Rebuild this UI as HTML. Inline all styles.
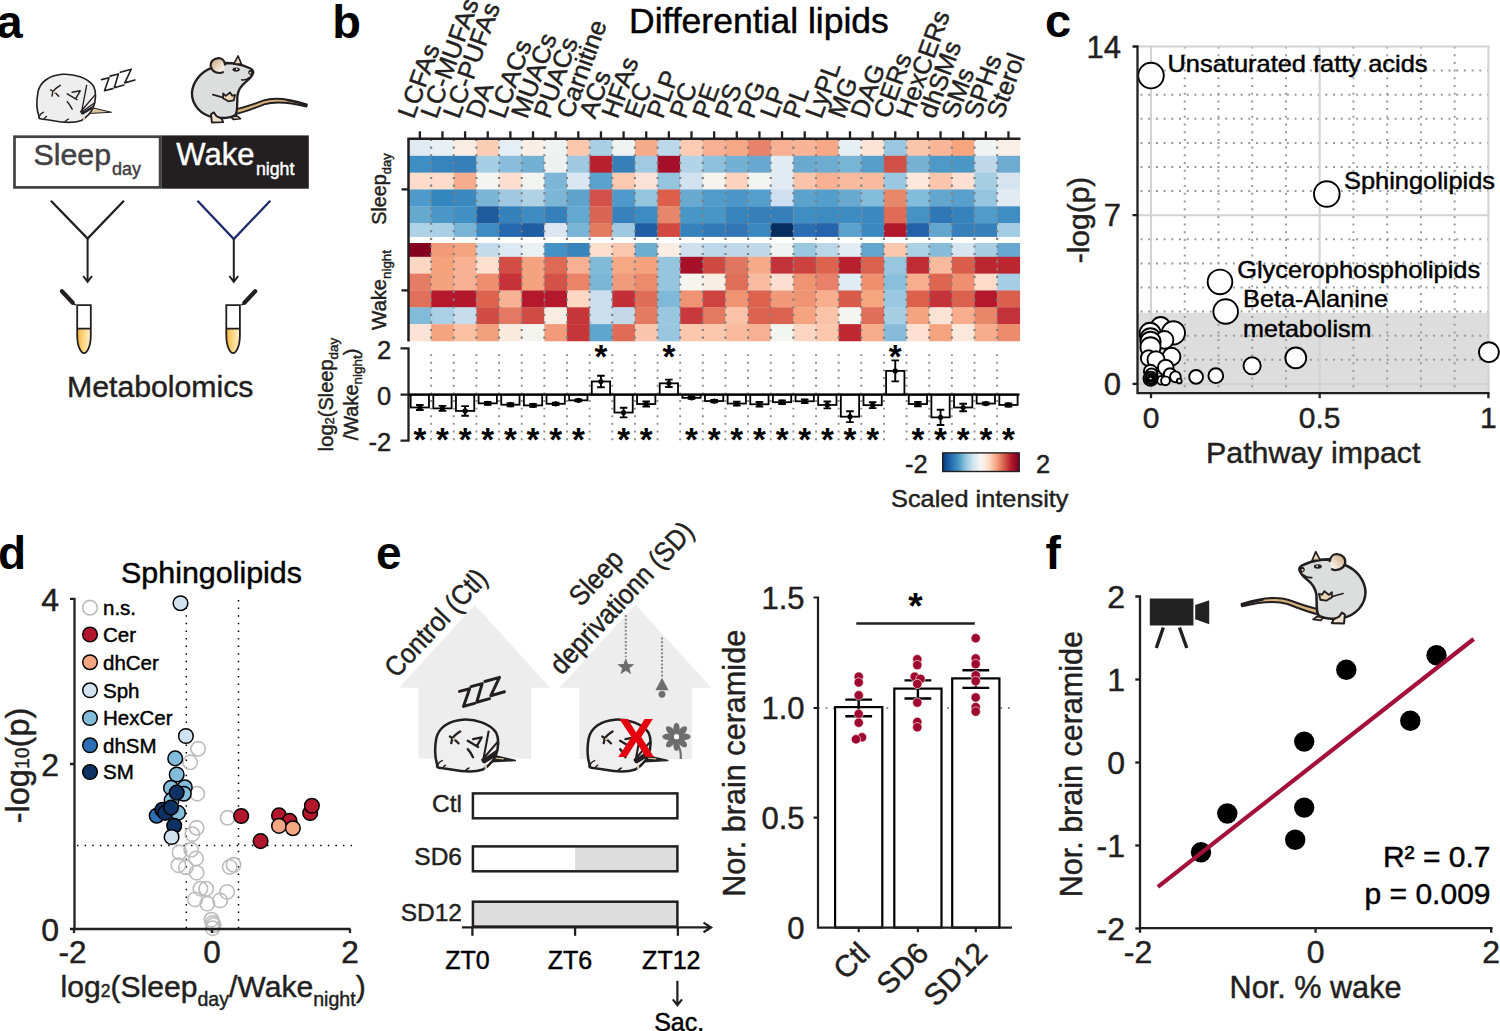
<!DOCTYPE html>
<html><head><meta charset="utf-8"><title>Figure</title>
<style>
html,body{margin:0;padding:0;background:#fff;width:1500px;height:1031px;overflow:hidden;}
svg{display:block;font-family:"Liberation Sans", sans-serif;}
</style></head><body>
<svg width="1500" height="1031" viewBox="0 0 1500 1031" font-family='"Liberation Sans", sans-serif'>
<rect width="1500" height="1031" fill="#fff"/>
<rect x="408.50" y="139.00" width="22.94" height="17.13" fill="#dfeaf2"/>
<rect x="431.14" y="139.00" width="22.94" height="17.13" fill="#e9f0f3"/>
<rect x="453.78" y="139.00" width="22.94" height="17.13" fill="#f9ece3"/>
<rect x="476.42" y="139.00" width="22.94" height="17.13" fill="#fbcdb5"/>
<rect x="499.06" y="139.00" width="22.94" height="17.13" fill="#e5eef4"/>
<rect x="521.70" y="139.00" width="22.94" height="17.13" fill="#f9eee6"/>
<rect x="544.34" y="139.00" width="22.94" height="17.13" fill="#eef3f1"/>
<rect x="566.98" y="139.00" width="22.94" height="17.13" fill="#fbc8ae"/>
<rect x="589.62" y="139.00" width="22.94" height="17.13" fill="#a8cfe4"/>
<rect x="612.26" y="139.00" width="22.94" height="17.13" fill="#eef3f1"/>
<rect x="634.90" y="139.00" width="22.94" height="17.13" fill="#f6ac8a"/>
<rect x="657.54" y="139.00" width="22.94" height="17.13" fill="#bcd8ea"/>
<rect x="680.18" y="139.00" width="22.94" height="17.13" fill="#fbcbb4"/>
<rect x="702.82" y="139.00" width="22.94" height="17.13" fill="#f7b093"/>
<rect x="725.46" y="139.00" width="22.94" height="17.13" fill="#f6a886"/>
<rect x="748.10" y="139.00" width="22.94" height="17.13" fill="#e6836a"/>
<rect x="770.74" y="139.00" width="22.94" height="17.13" fill="#f7b093"/>
<rect x="793.38" y="139.00" width="22.94" height="17.13" fill="#f7b497"/>
<rect x="816.02" y="139.00" width="22.94" height="17.13" fill="#f6a886"/>
<rect x="838.66" y="139.00" width="22.94" height="17.13" fill="#e6eff2"/>
<rect x="861.30" y="139.00" width="22.94" height="17.13" fill="#fde3d6"/>
<rect x="883.94" y="139.00" width="22.94" height="17.13" fill="#9ac8e0"/>
<rect x="906.58" y="139.00" width="22.94" height="17.13" fill="#fbc5ab"/>
<rect x="929.22" y="139.00" width="22.94" height="17.13" fill="#f9b598"/>
<rect x="951.86" y="139.00" width="22.94" height="17.13" fill="#f6a57f"/>
<rect x="974.50" y="139.00" width="22.94" height="17.13" fill="#eff3f1"/>
<rect x="997.14" y="139.00" width="22.94" height="17.13" fill="#f9efe6"/>
<rect x="408.50" y="155.83" width="22.94" height="17.13" fill="#3d8fc3"/>
<rect x="431.14" y="155.83" width="22.94" height="17.13" fill="#3584bd"/>
<rect x="453.78" y="155.83" width="22.94" height="17.13" fill="#3580bb"/>
<rect x="476.42" y="155.83" width="22.94" height="17.13" fill="#a6cfe5"/>
<rect x="499.06" y="155.83" width="22.94" height="17.13" fill="#88bedb"/>
<rect x="521.70" y="155.83" width="22.94" height="17.13" fill="#74afd4"/>
<rect x="544.34" y="155.83" width="22.94" height="17.13" fill="#edf2f1"/>
<rect x="566.98" y="155.83" width="22.94" height="17.13" fill="#9ec9e0"/>
<rect x="589.62" y="155.83" width="22.94" height="17.13" fill="#b8202f"/>
<rect x="612.26" y="155.83" width="22.94" height="17.13" fill="#3580bb"/>
<rect x="634.90" y="155.83" width="22.94" height="17.13" fill="#a0cae2"/>
<rect x="657.54" y="155.83" width="22.94" height="17.13" fill="#a50f2a"/>
<rect x="680.18" y="155.83" width="22.94" height="17.13" fill="#b3d4e8"/>
<rect x="702.82" y="155.83" width="22.94" height="17.13" fill="#8cc0dd"/>
<rect x="725.46" y="155.83" width="22.94" height="17.13" fill="#74b0d4"/>
<rect x="748.10" y="155.83" width="22.94" height="17.13" fill="#68a8d0"/>
<rect x="770.74" y="155.83" width="22.94" height="17.13" fill="#e1ebf2"/>
<rect x="793.38" y="155.83" width="22.94" height="17.13" fill="#6aaad0"/>
<rect x="816.02" y="155.83" width="22.94" height="17.13" fill="#6eacd2"/>
<rect x="838.66" y="155.83" width="22.94" height="17.13" fill="#78b4d5"/>
<rect x="861.30" y="155.83" width="22.94" height="17.13" fill="#569fcb"/>
<rect x="883.94" y="155.83" width="22.94" height="17.13" fill="#d05046"/>
<rect x="906.58" y="155.83" width="22.94" height="17.13" fill="#76b1d4"/>
<rect x="929.22" y="155.83" width="22.94" height="17.13" fill="#4d9ac9"/>
<rect x="951.86" y="155.83" width="22.94" height="17.13" fill="#4b98c7"/>
<rect x="974.50" y="155.83" width="22.94" height="17.13" fill="#c0d9ea"/>
<rect x="997.14" y="155.83" width="22.94" height="17.13" fill="#6eabd1"/>
<rect x="408.50" y="172.66" width="22.94" height="17.13" fill="#fddccb"/>
<rect x="431.14" y="172.66" width="22.94" height="17.13" fill="#fddccb"/>
<rect x="453.78" y="172.66" width="22.94" height="17.13" fill="#f7ad8c"/>
<rect x="476.42" y="172.66" width="22.94" height="17.13" fill="#f4f5f1"/>
<rect x="499.06" y="172.66" width="22.94" height="17.13" fill="#fddfd0"/>
<rect x="521.70" y="172.66" width="22.94" height="17.13" fill="#f1f4f1"/>
<rect x="544.34" y="172.66" width="22.94" height="17.13" fill="#7db6d7"/>
<rect x="566.98" y="172.66" width="22.94" height="17.13" fill="#dae6f2"/>
<rect x="589.62" y="172.66" width="22.94" height="17.13" fill="#5aa2ce"/>
<rect x="612.26" y="172.66" width="22.94" height="17.13" fill="#fcc8b0"/>
<rect x="634.90" y="172.66" width="22.94" height="17.13" fill="#fce2d6"/>
<rect x="657.54" y="172.66" width="22.94" height="17.13" fill="#94c4de"/>
<rect x="680.18" y="172.66" width="22.94" height="17.13" fill="#d0e1ef"/>
<rect x="702.82" y="172.66" width="22.94" height="17.13" fill="#f6f3ef"/>
<rect x="725.46" y="172.66" width="22.94" height="17.13" fill="#fcd3bf"/>
<rect x="748.10" y="172.66" width="22.94" height="17.13" fill="#f1f4f1"/>
<rect x="770.74" y="172.66" width="22.94" height="17.13" fill="#e1eaf2"/>
<rect x="793.38" y="172.66" width="22.94" height="17.13" fill="#fbc4aa"/>
<rect x="816.02" y="172.66" width="22.94" height="17.13" fill="#f8b293"/>
<rect x="838.66" y="172.66" width="22.94" height="17.13" fill="#f9bb9f"/>
<rect x="861.30" y="172.66" width="22.94" height="17.13" fill="#f9bb9f"/>
<rect x="883.94" y="172.66" width="22.94" height="17.13" fill="#9ac8e0"/>
<rect x="906.58" y="172.66" width="22.94" height="17.13" fill="#fde6da"/>
<rect x="929.22" y="172.66" width="22.94" height="17.13" fill="#fbc6ad"/>
<rect x="951.86" y="172.66" width="22.94" height="17.13" fill="#fde0d1"/>
<rect x="974.50" y="172.66" width="22.94" height="17.13" fill="#a6cfe4"/>
<rect x="997.14" y="172.66" width="22.94" height="17.13" fill="#d6e4f0"/>
<rect x="408.50" y="189.49" width="22.94" height="17.13" fill="#4e9bcb"/>
<rect x="431.14" y="189.49" width="22.94" height="17.13" fill="#3486bf"/>
<rect x="453.78" y="189.49" width="22.94" height="17.13" fill="#3a89c0"/>
<rect x="476.42" y="189.49" width="22.94" height="17.13" fill="#7ab4d6"/>
<rect x="499.06" y="189.49" width="22.94" height="17.13" fill="#a0c9e1"/>
<rect x="521.70" y="189.49" width="22.94" height="17.13" fill="#b1d1e5"/>
<rect x="544.34" y="189.49" width="22.94" height="17.13" fill="#7db6d7"/>
<rect x="566.98" y="189.49" width="22.94" height="17.13" fill="#5ea4cd"/>
<rect x="589.62" y="189.49" width="22.94" height="17.13" fill="#d2514a"/>
<rect x="612.26" y="189.49" width="22.94" height="17.13" fill="#4e9bcb"/>
<rect x="634.90" y="189.49" width="22.94" height="17.13" fill="#93c5de"/>
<rect x="657.54" y="189.49" width="22.94" height="17.13" fill="#dd5e4b"/>
<rect x="680.18" y="189.49" width="22.94" height="17.13" fill="#6aaad0"/>
<rect x="702.82" y="189.49" width="22.94" height="17.13" fill="#4f9cca"/>
<rect x="725.46" y="189.49" width="22.94" height="17.13" fill="#4a97c8"/>
<rect x="748.10" y="189.49" width="22.94" height="17.13" fill="#549fcb"/>
<rect x="770.74" y="189.49" width="22.94" height="17.13" fill="#cddff0"/>
<rect x="793.38" y="189.49" width="22.94" height="17.13" fill="#5ba2cd"/>
<rect x="816.02" y="189.49" width="22.94" height="17.13" fill="#549ecb"/>
<rect x="838.66" y="189.49" width="22.94" height="17.13" fill="#6aaad0"/>
<rect x="861.30" y="189.49" width="22.94" height="17.13" fill="#84bcdb"/>
<rect x="883.94" y="189.49" width="22.94" height="17.13" fill="#e8896b"/>
<rect x="906.58" y="189.49" width="22.94" height="17.13" fill="#83bbda"/>
<rect x="929.22" y="189.49" width="22.94" height="17.13" fill="#62a6ce"/>
<rect x="951.86" y="189.49" width="22.94" height="17.13" fill="#589fcb"/>
<rect x="974.50" y="189.49" width="22.94" height="17.13" fill="#94c4de"/>
<rect x="997.14" y="189.49" width="22.94" height="17.13" fill="#e2ebf2"/>
<rect x="408.50" y="206.32" width="22.94" height="17.13" fill="#65a9cf"/>
<rect x="431.14" y="206.32" width="22.94" height="17.13" fill="#4a97c8"/>
<rect x="453.78" y="206.32" width="22.94" height="17.13" fill="#4190c5"/>
<rect x="476.42" y="206.32" width="22.94" height="17.13" fill="#1f5c9f"/>
<rect x="499.06" y="206.32" width="22.94" height="17.13" fill="#3581bb"/>
<rect x="521.70" y="206.32" width="22.94" height="17.13" fill="#3e8cc1"/>
<rect x="544.34" y="206.32" width="22.94" height="17.13" fill="#3580bb"/>
<rect x="566.98" y="206.32" width="22.94" height="17.13" fill="#62a8cf"/>
<rect x="589.62" y="206.32" width="22.94" height="17.13" fill="#da6553"/>
<rect x="612.26" y="206.32" width="22.94" height="17.13" fill="#3782bc"/>
<rect x="634.90" y="206.32" width="22.94" height="17.13" fill="#3c8bc2"/>
<rect x="657.54" y="206.32" width="22.94" height="17.13" fill="#e6866a"/>
<rect x="680.18" y="206.32" width="22.94" height="17.13" fill="#4896c6"/>
<rect x="702.82" y="206.32" width="22.94" height="17.13" fill="#4896c6"/>
<rect x="725.46" y="206.32" width="22.94" height="17.13" fill="#3684bd"/>
<rect x="748.10" y="206.32" width="22.94" height="17.13" fill="#3580bb"/>
<rect x="770.74" y="206.32" width="22.94" height="17.13" fill="#3580bb"/>
<rect x="793.38" y="206.32" width="22.94" height="17.13" fill="#3e8ec3"/>
<rect x="816.02" y="206.32" width="22.94" height="17.13" fill="#3c8bc1"/>
<rect x="838.66" y="206.32" width="22.94" height="17.13" fill="#3c8bc1"/>
<rect x="861.30" y="206.32" width="22.94" height="17.13" fill="#3b89c0"/>
<rect x="883.94" y="206.32" width="22.94" height="17.13" fill="#e06b56"/>
<rect x="906.58" y="206.32" width="22.94" height="17.13" fill="#4592c5"/>
<rect x="929.22" y="206.32" width="22.94" height="17.13" fill="#2f77b6"/>
<rect x="951.86" y="206.32" width="22.94" height="17.13" fill="#3682bd"/>
<rect x="974.50" y="206.32" width="22.94" height="17.13" fill="#4f9bc9"/>
<rect x="997.14" y="206.32" width="22.94" height="17.13" fill="#3d8ec3"/>
<rect x="408.50" y="223.15" width="22.94" height="17.13" fill="#add1e5"/>
<rect x="431.14" y="223.15" width="22.94" height="17.13" fill="#a9cfe4"/>
<rect x="453.78" y="223.15" width="22.94" height="17.13" fill="#79b4d6"/>
<rect x="476.42" y="223.15" width="22.94" height="17.13" fill="#3d8bc2"/>
<rect x="499.06" y="223.15" width="22.94" height="17.13" fill="#2769ae"/>
<rect x="521.70" y="223.15" width="22.94" height="17.13" fill="#1f5ea2"/>
<rect x="544.34" y="223.15" width="22.94" height="17.13" fill="#dbe6f2"/>
<rect x="566.98" y="223.15" width="22.94" height="17.13" fill="#79b3d5"/>
<rect x="589.62" y="223.15" width="22.94" height="17.13" fill="#e27a60"/>
<rect x="612.26" y="223.15" width="22.94" height="17.13" fill="#9ec9e0"/>
<rect x="634.90" y="223.15" width="22.94" height="17.13" fill="#1f5ea3"/>
<rect x="657.54" y="223.15" width="22.94" height="17.13" fill="#d4493f"/>
<rect x="680.18" y="223.15" width="22.94" height="17.13" fill="#3682bd"/>
<rect x="702.82" y="223.15" width="22.94" height="17.13" fill="#3179b7"/>
<rect x="725.46" y="223.15" width="22.94" height="17.13" fill="#3176b6"/>
<rect x="748.10" y="223.15" width="22.94" height="17.13" fill="#3a88c0"/>
<rect x="770.74" y="223.15" width="22.94" height="17.13" fill="#052f61"/>
<rect x="793.38" y="223.15" width="22.94" height="17.13" fill="#2b6db1"/>
<rect x="816.02" y="223.15" width="22.94" height="17.13" fill="#2563aa"/>
<rect x="838.66" y="223.15" width="22.94" height="17.13" fill="#5ba2ce"/>
<rect x="861.30" y="223.15" width="22.94" height="17.13" fill="#3b89c1"/>
<rect x="883.94" y="223.15" width="22.94" height="17.13" fill="#b2182b"/>
<rect x="906.58" y="223.15" width="22.94" height="17.13" fill="#2362a8"/>
<rect x="929.22" y="223.15" width="22.94" height="17.13" fill="#62a6ce"/>
<rect x="951.86" y="223.15" width="22.94" height="17.13" fill="#3780bb"/>
<rect x="974.50" y="223.15" width="22.94" height="17.13" fill="#3780bb"/>
<rect x="997.14" y="223.15" width="22.94" height="17.13" fill="#a3cbe2"/>
<rect x="408.50" y="239.98" width="22.94" height="17.13" fill="#850020"/>
<rect x="431.14" y="239.98" width="22.94" height="17.13" fill="#f19b7b"/>
<rect x="453.78" y="239.98" width="22.94" height="17.13" fill="#f4a47f"/>
<rect x="476.42" y="239.98" width="22.94" height="17.13" fill="#c3dbeb"/>
<rect x="499.06" y="239.98" width="22.94" height="17.13" fill="#dce8f2"/>
<rect x="521.70" y="239.98" width="22.94" height="17.13" fill="#ebf1f2"/>
<rect x="544.34" y="239.98" width="22.94" height="17.13" fill="#4292c6"/>
<rect x="566.98" y="239.98" width="22.94" height="17.13" fill="#3784bd"/>
<rect x="589.62" y="239.98" width="22.94" height="17.13" fill="#fdddcb"/>
<rect x="612.26" y="239.98" width="22.94" height="17.13" fill="#fbc7ae"/>
<rect x="634.90" y="239.98" width="22.94" height="17.13" fill="#6eadd2"/>
<rect x="657.54" y="239.98" width="22.94" height="17.13" fill="#f9ede4"/>
<rect x="680.18" y="239.98" width="22.94" height="17.13" fill="#cfe1ef"/>
<rect x="702.82" y="239.98" width="22.94" height="17.13" fill="#bcd8ea"/>
<rect x="725.46" y="239.98" width="22.94" height="17.13" fill="#c0d9ea"/>
<rect x="748.10" y="239.98" width="22.94" height="17.13" fill="#c0d9ea"/>
<rect x="770.74" y="239.98" width="22.94" height="17.13" fill="#eef3f1"/>
<rect x="793.38" y="239.98" width="22.94" height="17.13" fill="#9ac8e0"/>
<rect x="816.02" y="239.98" width="22.94" height="17.13" fill="#bad6e9"/>
<rect x="838.66" y="239.98" width="22.94" height="17.13" fill="#e1ebf3"/>
<rect x="861.30" y="239.98" width="22.94" height="17.13" fill="#62a5cd"/>
<rect x="883.94" y="239.98" width="22.94" height="17.13" fill="#fbc8ae"/>
<rect x="906.58" y="239.98" width="22.94" height="17.13" fill="#acd1e5"/>
<rect x="929.22" y="239.98" width="22.94" height="17.13" fill="#86bcd9"/>
<rect x="951.86" y="239.98" width="22.94" height="17.13" fill="#d7e5f1"/>
<rect x="974.50" y="239.98" width="22.94" height="17.13" fill="#a8cee3"/>
<rect x="997.14" y="239.98" width="22.94" height="17.13" fill="#66a8cf"/>
<rect x="408.50" y="256.81" width="22.94" height="17.13" fill="#fdd7c4"/>
<rect x="431.14" y="256.81" width="22.94" height="17.13" fill="#f5a27d"/>
<rect x="453.78" y="256.81" width="22.94" height="17.13" fill="#f8b192"/>
<rect x="476.42" y="256.81" width="22.94" height="17.13" fill="#fde0ce"/>
<rect x="499.06" y="256.81" width="22.94" height="17.13" fill="#d24e45"/>
<rect x="521.70" y="256.81" width="22.94" height="17.13" fill="#f4a27f"/>
<rect x="544.34" y="256.81" width="22.94" height="17.13" fill="#de6a55"/>
<rect x="566.98" y="256.81" width="22.94" height="17.13" fill="#f7b092"/>
<rect x="589.62" y="256.81" width="22.94" height="17.13" fill="#81b9d8"/>
<rect x="612.26" y="256.81" width="22.94" height="17.13" fill="#f6a784"/>
<rect x="634.90" y="256.81" width="22.94" height="17.13" fill="#f6a27e"/>
<rect x="657.54" y="256.81" width="22.94" height="17.13" fill="#96c6df"/>
<rect x="680.18" y="256.81" width="22.94" height="17.13" fill="#a50f28"/>
<rect x="702.82" y="256.81" width="22.94" height="17.13" fill="#ce4a42"/>
<rect x="725.46" y="256.81" width="22.94" height="17.13" fill="#e17660"/>
<rect x="748.10" y="256.81" width="22.94" height="17.13" fill="#f7aa88"/>
<rect x="770.74" y="256.81" width="22.94" height="17.13" fill="#c3323a"/>
<rect x="793.38" y="256.81" width="22.94" height="17.13" fill="#cb423f"/>
<rect x="816.02" y="256.81" width="22.94" height="17.13" fill="#dc644f"/>
<rect x="838.66" y="256.81" width="22.94" height="17.13" fill="#b8202f"/>
<rect x="861.30" y="256.81" width="22.94" height="17.13" fill="#da614d"/>
<rect x="883.94" y="256.81" width="22.94" height="17.13" fill="#98c6df"/>
<rect x="906.58" y="256.81" width="22.94" height="17.13" fill="#c02c36"/>
<rect x="929.22" y="256.81" width="22.94" height="17.13" fill="#f9b99c"/>
<rect x="951.86" y="256.81" width="22.94" height="17.13" fill="#d95d4b"/>
<rect x="974.50" y="256.81" width="22.94" height="17.13" fill="#bc2631"/>
<rect x="997.14" y="256.81" width="22.94" height="17.13" fill="#bc2631"/>
<rect x="408.50" y="273.64" width="22.94" height="17.13" fill="#e57d65"/>
<rect x="431.14" y="273.64" width="22.94" height="17.13" fill="#f5a27f"/>
<rect x="453.78" y="273.64" width="22.94" height="17.13" fill="#f8b092"/>
<rect x="476.42" y="273.64" width="22.94" height="17.13" fill="#ef8e6e"/>
<rect x="499.06" y="273.64" width="22.94" height="17.13" fill="#c63237"/>
<rect x="521.70" y="273.64" width="22.94" height="17.13" fill="#f4a27f"/>
<rect x="544.34" y="273.64" width="22.94" height="17.13" fill="#d45247"/>
<rect x="566.98" y="273.64" width="22.94" height="17.13" fill="#ea8367"/>
<rect x="589.62" y="273.64" width="22.94" height="17.13" fill="#7cb6d7"/>
<rect x="612.26" y="273.64" width="22.94" height="17.13" fill="#f09c7c"/>
<rect x="634.90" y="273.64" width="22.94" height="17.13" fill="#ec8b6c"/>
<rect x="657.54" y="273.64" width="22.94" height="17.13" fill="#96c6df"/>
<rect x="680.18" y="273.64" width="22.94" height="17.13" fill="#f5f4ef"/>
<rect x="702.82" y="273.64" width="22.94" height="17.13" fill="#f9eee4"/>
<rect x="725.46" y="273.64" width="22.94" height="17.13" fill="#e06f5a"/>
<rect x="748.10" y="273.64" width="22.94" height="17.13" fill="#f9bca1"/>
<rect x="770.74" y="273.64" width="22.94" height="17.13" fill="#fddfd2"/>
<rect x="793.38" y="273.64" width="22.94" height="17.13" fill="#ef9472"/>
<rect x="816.02" y="273.64" width="22.94" height="17.13" fill="#e8806a"/>
<rect x="838.66" y="273.64" width="22.94" height="17.13" fill="#e1ebf3"/>
<rect x="861.30" y="273.64" width="22.94" height="17.13" fill="#f0906f"/>
<rect x="883.94" y="273.64" width="22.94" height="17.13" fill="#8abfdc"/>
<rect x="906.58" y="273.64" width="22.94" height="17.13" fill="#f8ae8c"/>
<rect x="929.22" y="273.64" width="22.94" height="17.13" fill="#dd6651"/>
<rect x="951.86" y="273.64" width="22.94" height="17.13" fill="#ef9070"/>
<rect x="974.50" y="273.64" width="22.94" height="17.13" fill="#fddcca"/>
<rect x="997.14" y="273.64" width="22.94" height="17.13" fill="#a6cee4"/>
<rect x="408.50" y="290.47" width="22.94" height="17.13" fill="#e07059"/>
<rect x="431.14" y="290.47" width="22.94" height="17.13" fill="#b5182d"/>
<rect x="453.78" y="290.47" width="22.94" height="17.13" fill="#b3172c"/>
<rect x="476.42" y="290.47" width="22.94" height="17.13" fill="#dd634f"/>
<rect x="499.06" y="290.47" width="22.94" height="17.13" fill="#f7b193"/>
<rect x="521.70" y="290.47" width="22.94" height="17.13" fill="#b4182d"/>
<rect x="544.34" y="290.47" width="22.94" height="17.13" fill="#b4182d"/>
<rect x="566.98" y="290.47" width="22.94" height="17.13" fill="#fdd7c4"/>
<rect x="589.62" y="290.47" width="22.94" height="17.13" fill="#cadeed"/>
<rect x="612.26" y="290.47" width="22.94" height="17.13" fill="#c42e38"/>
<rect x="634.90" y="290.47" width="22.94" height="17.13" fill="#e06d58"/>
<rect x="657.54" y="290.47" width="22.94" height="17.13" fill="#7fb8d8"/>
<rect x="680.18" y="290.47" width="22.94" height="17.13" fill="#f09373"/>
<rect x="702.82" y="290.47" width="22.94" height="17.13" fill="#cc433f"/>
<rect x="725.46" y="290.47" width="22.94" height="17.13" fill="#ef9472"/>
<rect x="748.10" y="290.47" width="22.94" height="17.13" fill="#dd634f"/>
<rect x="770.74" y="290.47" width="22.94" height="17.13" fill="#f09a79"/>
<rect x="793.38" y="290.47" width="22.94" height="17.13" fill="#ef9472"/>
<rect x="816.02" y="290.47" width="22.94" height="17.13" fill="#f8ae8c"/>
<rect x="838.66" y="290.47" width="22.94" height="17.13" fill="#d95c4b"/>
<rect x="861.30" y="290.47" width="22.94" height="17.13" fill="#f6a57f"/>
<rect x="883.94" y="290.47" width="22.94" height="17.13" fill="#9ac8e0"/>
<rect x="906.58" y="290.47" width="22.94" height="17.13" fill="#db614d"/>
<rect x="929.22" y="290.47" width="22.94" height="17.13" fill="#c43339"/>
<rect x="951.86" y="290.47" width="22.94" height="17.13" fill="#da614d"/>
<rect x="974.50" y="290.47" width="22.94" height="17.13" fill="#b5182d"/>
<rect x="997.14" y="290.47" width="22.94" height="17.13" fill="#da5f4c"/>
<rect x="408.50" y="307.30" width="22.94" height="17.13" fill="#81bbd8"/>
<rect x="431.14" y="307.30" width="22.94" height="17.13" fill="#a9d0e5"/>
<rect x="453.78" y="307.30" width="22.94" height="17.13" fill="#c6dcec"/>
<rect x="476.42" y="307.30" width="22.94" height="17.13" fill="#d04b44"/>
<rect x="499.06" y="307.30" width="22.94" height="17.13" fill="#e47862"/>
<rect x="521.70" y="307.30" width="22.94" height="17.13" fill="#d04b44"/>
<rect x="544.34" y="307.30" width="22.94" height="17.13" fill="#f9ece3"/>
<rect x="566.98" y="307.30" width="22.94" height="17.13" fill="#c63538"/>
<rect x="589.62" y="307.30" width="22.94" height="17.13" fill="#cadeed"/>
<rect x="612.26" y="307.30" width="22.94" height="17.13" fill="#c3d9ea"/>
<rect x="634.90" y="307.30" width="22.94" height="17.13" fill="#e47a62"/>
<rect x="657.54" y="307.30" width="22.94" height="17.13" fill="#98c7df"/>
<rect x="680.18" y="307.30" width="22.94" height="17.13" fill="#c8393c"/>
<rect x="702.82" y="307.30" width="22.94" height="17.13" fill="#e47a62"/>
<rect x="725.46" y="307.30" width="22.94" height="17.13" fill="#fac2a7"/>
<rect x="748.10" y="307.30" width="22.94" height="17.13" fill="#dc634f"/>
<rect x="770.74" y="307.30" width="22.94" height="17.13" fill="#dc634f"/>
<rect x="793.38" y="307.30" width="22.94" height="17.13" fill="#f5a47f"/>
<rect x="816.02" y="307.30" width="22.94" height="17.13" fill="#fac3a7"/>
<rect x="838.66" y="307.30" width="22.94" height="17.13" fill="#f4f5f0"/>
<rect x="861.30" y="307.30" width="22.94" height="17.13" fill="#e06e58"/>
<rect x="883.94" y="307.30" width="22.94" height="17.13" fill="#a6cfe4"/>
<rect x="906.58" y="307.30" width="22.94" height="17.13" fill="#f5a47f"/>
<rect x="929.22" y="307.30" width="22.94" height="17.13" fill="#fde2d6"/>
<rect x="951.86" y="307.30" width="22.94" height="17.13" fill="#f8ae8c"/>
<rect x="974.50" y="307.30" width="22.94" height="17.13" fill="#e8866a"/>
<rect x="997.14" y="307.30" width="22.94" height="17.13" fill="#c3313a"/>
<rect x="408.50" y="324.13" width="22.94" height="17.13" fill="#fbe3d8"/>
<rect x="431.14" y="324.13" width="22.94" height="17.13" fill="#f5a482"/>
<rect x="453.78" y="324.13" width="22.94" height="17.13" fill="#fbbfa2"/>
<rect x="476.42" y="324.13" width="22.94" height="17.13" fill="#f19f7c"/>
<rect x="499.06" y="324.13" width="22.94" height="17.13" fill="#faeade"/>
<rect x="521.70" y="324.13" width="22.94" height="17.13" fill="#f4f4ef"/>
<rect x="544.34" y="324.13" width="22.94" height="17.13" fill="#f19b7a"/>
<rect x="566.98" y="324.13" width="22.94" height="17.13" fill="#c63538"/>
<rect x="589.62" y="324.13" width="22.94" height="17.13" fill="#5ea6cd"/>
<rect x="612.26" y="324.13" width="22.94" height="17.13" fill="#e06b56"/>
<rect x="634.90" y="324.13" width="22.94" height="17.13" fill="#fbc6ad"/>
<rect x="657.54" y="324.13" width="22.94" height="17.13" fill="#98c7df"/>
<rect x="680.18" y="324.13" width="22.94" height="17.13" fill="#fbc8ae"/>
<rect x="702.82" y="324.13" width="22.94" height="17.13" fill="#fbc8ae"/>
<rect x="725.46" y="324.13" width="22.94" height="17.13" fill="#f9b99c"/>
<rect x="748.10" y="324.13" width="22.94" height="17.13" fill="#f7b092"/>
<rect x="770.74" y="324.13" width="22.94" height="17.13" fill="#f3f5f0"/>
<rect x="793.38" y="324.13" width="22.94" height="17.13" fill="#fcd6c3"/>
<rect x="816.02" y="324.13" width="22.94" height="17.13" fill="#fbc8ae"/>
<rect x="838.66" y="324.13" width="22.94" height="17.13" fill="#bf2833"/>
<rect x="861.30" y="324.13" width="22.94" height="17.13" fill="#f7ad8c"/>
<rect x="883.94" y="324.13" width="22.94" height="17.13" fill="#86bcd9"/>
<rect x="906.58" y="324.13" width="22.94" height="17.13" fill="#fde0d2"/>
<rect x="929.22" y="324.13" width="22.94" height="17.13" fill="#f5a47f"/>
<rect x="951.86" y="324.13" width="22.94" height="17.13" fill="#fbe7dc"/>
<rect x="974.50" y="324.13" width="22.94" height="17.13" fill="#f7ad8c"/>
<rect x="997.14" y="324.13" width="22.94" height="17.13" fill="#ec8c6c"/>
<rect x="408.5" y="236.9" width="612.28" height="6.1" fill="#fff"/>
<line x1="431.14" y1="139" x2="431.14" y2="341" stroke="#7f7f7f" stroke-width="2.1" stroke-dasharray="2.1 5.5"/>
<line x1="431.14" y1="354.2" x2="431.14" y2="442" stroke="#8a8a8a" stroke-width="1.9" stroke-dasharray="1.9 5.74"/>
<line x1="453.78" y1="139" x2="453.78" y2="341" stroke="#7f7f7f" stroke-width="2.1" stroke-dasharray="2.1 5.5"/>
<line x1="453.78" y1="354.2" x2="453.78" y2="442" stroke="#8a8a8a" stroke-width="1.9" stroke-dasharray="1.9 5.74"/>
<line x1="476.42" y1="139" x2="476.42" y2="341" stroke="#7f7f7f" stroke-width="2.1" stroke-dasharray="2.1 5.5"/>
<line x1="476.42" y1="354.2" x2="476.42" y2="442" stroke="#8a8a8a" stroke-width="1.9" stroke-dasharray="1.9 5.74"/>
<line x1="499.06" y1="139" x2="499.06" y2="341" stroke="#7f7f7f" stroke-width="2.1" stroke-dasharray="2.1 5.5"/>
<line x1="499.06" y1="354.2" x2="499.06" y2="442" stroke="#8a8a8a" stroke-width="1.9" stroke-dasharray="1.9 5.74"/>
<line x1="521.70" y1="139" x2="521.70" y2="341" stroke="#7f7f7f" stroke-width="2.1" stroke-dasharray="2.1 5.5"/>
<line x1="521.70" y1="354.2" x2="521.70" y2="442" stroke="#8a8a8a" stroke-width="1.9" stroke-dasharray="1.9 5.74"/>
<line x1="544.34" y1="139" x2="544.34" y2="341" stroke="#7f7f7f" stroke-width="2.1" stroke-dasharray="2.1 5.5"/>
<line x1="544.34" y1="354.2" x2="544.34" y2="442" stroke="#8a8a8a" stroke-width="1.9" stroke-dasharray="1.9 5.74"/>
<line x1="566.98" y1="139" x2="566.98" y2="341" stroke="#7f7f7f" stroke-width="2.1" stroke-dasharray="2.1 5.5"/>
<line x1="566.98" y1="354.2" x2="566.98" y2="442" stroke="#8a8a8a" stroke-width="1.9" stroke-dasharray="1.9 5.74"/>
<line x1="589.62" y1="139" x2="589.62" y2="341" stroke="#7f7f7f" stroke-width="2.1" stroke-dasharray="2.1 5.5"/>
<line x1="589.62" y1="354.2" x2="589.62" y2="442" stroke="#8a8a8a" stroke-width="1.9" stroke-dasharray="1.9 5.74"/>
<line x1="612.26" y1="139" x2="612.26" y2="341" stroke="#7f7f7f" stroke-width="2.1" stroke-dasharray="2.1 5.5"/>
<line x1="612.26" y1="354.2" x2="612.26" y2="442" stroke="#8a8a8a" stroke-width="1.9" stroke-dasharray="1.9 5.74"/>
<line x1="634.90" y1="139" x2="634.90" y2="341" stroke="#7f7f7f" stroke-width="2.1" stroke-dasharray="2.1 5.5"/>
<line x1="634.90" y1="354.2" x2="634.90" y2="442" stroke="#8a8a8a" stroke-width="1.9" stroke-dasharray="1.9 5.74"/>
<line x1="657.54" y1="139" x2="657.54" y2="341" stroke="#7f7f7f" stroke-width="2.1" stroke-dasharray="2.1 5.5"/>
<line x1="657.54" y1="354.2" x2="657.54" y2="442" stroke="#8a8a8a" stroke-width="1.9" stroke-dasharray="1.9 5.74"/>
<line x1="680.18" y1="139" x2="680.18" y2="341" stroke="#7f7f7f" stroke-width="2.1" stroke-dasharray="2.1 5.5"/>
<line x1="680.18" y1="354.2" x2="680.18" y2="442" stroke="#8a8a8a" stroke-width="1.9" stroke-dasharray="1.9 5.74"/>
<line x1="702.82" y1="139" x2="702.82" y2="341" stroke="#7f7f7f" stroke-width="2.1" stroke-dasharray="2.1 5.5"/>
<line x1="702.82" y1="354.2" x2="702.82" y2="442" stroke="#8a8a8a" stroke-width="1.9" stroke-dasharray="1.9 5.74"/>
<line x1="725.46" y1="139" x2="725.46" y2="341" stroke="#7f7f7f" stroke-width="2.1" stroke-dasharray="2.1 5.5"/>
<line x1="725.46" y1="354.2" x2="725.46" y2="442" stroke="#8a8a8a" stroke-width="1.9" stroke-dasharray="1.9 5.74"/>
<line x1="748.10" y1="139" x2="748.10" y2="341" stroke="#7f7f7f" stroke-width="2.1" stroke-dasharray="2.1 5.5"/>
<line x1="748.10" y1="354.2" x2="748.10" y2="442" stroke="#8a8a8a" stroke-width="1.9" stroke-dasharray="1.9 5.74"/>
<line x1="770.74" y1="139" x2="770.74" y2="341" stroke="#7f7f7f" stroke-width="2.1" stroke-dasharray="2.1 5.5"/>
<line x1="770.74" y1="354.2" x2="770.74" y2="442" stroke="#8a8a8a" stroke-width="1.9" stroke-dasharray="1.9 5.74"/>
<line x1="793.38" y1="139" x2="793.38" y2="341" stroke="#7f7f7f" stroke-width="2.1" stroke-dasharray="2.1 5.5"/>
<line x1="793.38" y1="354.2" x2="793.38" y2="442" stroke="#8a8a8a" stroke-width="1.9" stroke-dasharray="1.9 5.74"/>
<line x1="816.02" y1="139" x2="816.02" y2="341" stroke="#7f7f7f" stroke-width="2.1" stroke-dasharray="2.1 5.5"/>
<line x1="816.02" y1="354.2" x2="816.02" y2="442" stroke="#8a8a8a" stroke-width="1.9" stroke-dasharray="1.9 5.74"/>
<line x1="838.66" y1="139" x2="838.66" y2="341" stroke="#7f7f7f" stroke-width="2.1" stroke-dasharray="2.1 5.5"/>
<line x1="838.66" y1="354.2" x2="838.66" y2="442" stroke="#8a8a8a" stroke-width="1.9" stroke-dasharray="1.9 5.74"/>
<line x1="861.30" y1="139" x2="861.30" y2="341" stroke="#7f7f7f" stroke-width="2.1" stroke-dasharray="2.1 5.5"/>
<line x1="861.30" y1="354.2" x2="861.30" y2="442" stroke="#8a8a8a" stroke-width="1.9" stroke-dasharray="1.9 5.74"/>
<line x1="883.94" y1="139" x2="883.94" y2="341" stroke="#7f7f7f" stroke-width="2.1" stroke-dasharray="2.1 5.5"/>
<line x1="883.94" y1="354.2" x2="883.94" y2="442" stroke="#8a8a8a" stroke-width="1.9" stroke-dasharray="1.9 5.74"/>
<line x1="906.58" y1="139" x2="906.58" y2="341" stroke="#7f7f7f" stroke-width="2.1" stroke-dasharray="2.1 5.5"/>
<line x1="906.58" y1="354.2" x2="906.58" y2="442" stroke="#8a8a8a" stroke-width="1.9" stroke-dasharray="1.9 5.74"/>
<line x1="929.22" y1="139" x2="929.22" y2="341" stroke="#7f7f7f" stroke-width="2.1" stroke-dasharray="2.1 5.5"/>
<line x1="929.22" y1="354.2" x2="929.22" y2="442" stroke="#8a8a8a" stroke-width="1.9" stroke-dasharray="1.9 5.74"/>
<line x1="951.86" y1="139" x2="951.86" y2="341" stroke="#7f7f7f" stroke-width="2.1" stroke-dasharray="2.1 5.5"/>
<line x1="951.86" y1="354.2" x2="951.86" y2="442" stroke="#8a8a8a" stroke-width="1.9" stroke-dasharray="1.9 5.74"/>
<line x1="974.50" y1="139" x2="974.50" y2="341" stroke="#7f7f7f" stroke-width="2.1" stroke-dasharray="2.1 5.5"/>
<line x1="974.50" y1="354.2" x2="974.50" y2="442" stroke="#8a8a8a" stroke-width="1.9" stroke-dasharray="1.9 5.74"/>
<line x1="997.14" y1="139" x2="997.14" y2="341" stroke="#7f7f7f" stroke-width="2.1" stroke-dasharray="2.1 5.5"/>
<line x1="997.14" y1="354.2" x2="997.14" y2="442" stroke="#8a8a8a" stroke-width="1.9" stroke-dasharray="1.9 5.74"/>
<path d="M408.5 341.5 V138.7 H1020.5" fill="none" stroke="#231f20" stroke-width="2.5"/>
<line x1="419.82" y1="131.3" x2="419.82" y2="138" stroke="#231f20" stroke-width="2.3"/>
<line x1="442.46" y1="131.3" x2="442.46" y2="138" stroke="#231f20" stroke-width="2.3"/>
<line x1="465.10" y1="131.3" x2="465.10" y2="138" stroke="#231f20" stroke-width="2.3"/>
<line x1="487.74" y1="131.3" x2="487.74" y2="138" stroke="#231f20" stroke-width="2.3"/>
<line x1="510.38" y1="131.3" x2="510.38" y2="138" stroke="#231f20" stroke-width="2.3"/>
<line x1="533.02" y1="131.3" x2="533.02" y2="138" stroke="#231f20" stroke-width="2.3"/>
<line x1="555.66" y1="131.3" x2="555.66" y2="138" stroke="#231f20" stroke-width="2.3"/>
<line x1="578.30" y1="131.3" x2="578.30" y2="138" stroke="#231f20" stroke-width="2.3"/>
<line x1="600.94" y1="131.3" x2="600.94" y2="138" stroke="#231f20" stroke-width="2.3"/>
<line x1="623.58" y1="131.3" x2="623.58" y2="138" stroke="#231f20" stroke-width="2.3"/>
<line x1="646.22" y1="131.3" x2="646.22" y2="138" stroke="#231f20" stroke-width="2.3"/>
<line x1="668.86" y1="131.3" x2="668.86" y2="138" stroke="#231f20" stroke-width="2.3"/>
<line x1="691.50" y1="131.3" x2="691.50" y2="138" stroke="#231f20" stroke-width="2.3"/>
<line x1="714.14" y1="131.3" x2="714.14" y2="138" stroke="#231f20" stroke-width="2.3"/>
<line x1="736.78" y1="131.3" x2="736.78" y2="138" stroke="#231f20" stroke-width="2.3"/>
<line x1="759.42" y1="131.3" x2="759.42" y2="138" stroke="#231f20" stroke-width="2.3"/>
<line x1="782.06" y1="131.3" x2="782.06" y2="138" stroke="#231f20" stroke-width="2.3"/>
<line x1="804.70" y1="131.3" x2="804.70" y2="138" stroke="#231f20" stroke-width="2.3"/>
<line x1="827.34" y1="131.3" x2="827.34" y2="138" stroke="#231f20" stroke-width="2.3"/>
<line x1="849.98" y1="131.3" x2="849.98" y2="138" stroke="#231f20" stroke-width="2.3"/>
<line x1="872.62" y1="131.3" x2="872.62" y2="138" stroke="#231f20" stroke-width="2.3"/>
<line x1="895.26" y1="131.3" x2="895.26" y2="138" stroke="#231f20" stroke-width="2.3"/>
<line x1="917.90" y1="131.3" x2="917.90" y2="138" stroke="#231f20" stroke-width="2.3"/>
<line x1="940.54" y1="131.3" x2="940.54" y2="138" stroke="#231f20" stroke-width="2.3"/>
<line x1="963.18" y1="131.3" x2="963.18" y2="138" stroke="#231f20" stroke-width="2.3"/>
<line x1="985.82" y1="131.3" x2="985.82" y2="138" stroke="#231f20" stroke-width="2.3"/>
<line x1="1008.46" y1="131.3" x2="1008.46" y2="138" stroke="#231f20" stroke-width="2.3"/>
<line x1="401.5" y1="189.4" x2="408.5" y2="189.4" stroke="#231f20" stroke-width="2.3"/>
<line x1="401.5" y1="290.4" x2="408.5" y2="290.4" stroke="#231f20" stroke-width="2.3"/>
<text transform="translate(386.3,189) rotate(-90)" text-anchor="middle" font-size="19.8" fill="#231f20" stroke="#231f20" stroke-width="0.45">Sleep<tspan font-size="13" dy="5">day</tspan></text>
<text transform="translate(386.3,290) rotate(-90)" text-anchor="middle" font-size="20.3" fill="#231f20" stroke="#231f20" stroke-width="0.45">Wake<tspan font-size="13.3" dy="5">night</tspan></text>
<text transform="translate(413.82,119.7) rotate(-70)" font-size="25.5" fill="#231f20" stroke="#231f20" stroke-width="0.45">LCFAs</text>
<text transform="translate(436.46,119.7) rotate(-70)" font-size="25.5" fill="#231f20" stroke="#231f20" stroke-width="0.45">LC-MUFAs</text>
<text transform="translate(459.10,119.7) rotate(-70)" font-size="25.5" fill="#231f20" stroke="#231f20" stroke-width="0.45">LC-PUFAs</text>
<text transform="translate(481.74,119.7) rotate(-70)" font-size="25.5" fill="#231f20" stroke="#231f20" stroke-width="0.45">DA</text>
<text transform="translate(504.38,119.7) rotate(-70)" font-size="25.5" fill="#231f20" stroke="#231f20" stroke-width="0.45">LCACs</text>
<text transform="translate(527.02,119.7) rotate(-70)" font-size="25.5" fill="#231f20" stroke="#231f20" stroke-width="0.45">MUACs</text>
<text transform="translate(549.66,119.7) rotate(-70)" font-size="25.5" fill="#231f20" stroke="#231f20" stroke-width="0.45">PUACs</text>
<text transform="translate(572.30,119.7) rotate(-70)" font-size="25.5" fill="#231f20" stroke="#231f20" stroke-width="0.45">Carnitine</text>
<text transform="translate(594.94,119.7) rotate(-70)" font-size="25.5" fill="#231f20" stroke="#231f20" stroke-width="0.45">ACs</text>
<text transform="translate(617.58,119.7) rotate(-70)" font-size="25.5" fill="#231f20" stroke="#231f20" stroke-width="0.45">HFAs</text>
<text transform="translate(640.22,119.7) rotate(-70)" font-size="25.5" fill="#231f20" stroke="#231f20" stroke-width="0.45">EC</text>
<text transform="translate(662.86,119.7) rotate(-70)" font-size="25.5" fill="#231f20" stroke="#231f20" stroke-width="0.45">PLP</text>
<text transform="translate(685.50,119.7) rotate(-70)" font-size="25.5" fill="#231f20" stroke="#231f20" stroke-width="0.45">PC</text>
<text transform="translate(708.14,119.7) rotate(-70)" font-size="25.5" fill="#231f20" stroke="#231f20" stroke-width="0.45">PE</text>
<text transform="translate(730.78,119.7) rotate(-70)" font-size="25.5" fill="#231f20" stroke="#231f20" stroke-width="0.45">PS</text>
<text transform="translate(753.42,119.7) rotate(-70)" font-size="25.5" fill="#231f20" stroke="#231f20" stroke-width="0.45">PG</text>
<text transform="translate(776.06,119.7) rotate(-70)" font-size="25.5" fill="#231f20" stroke="#231f20" stroke-width="0.45">LP</text>
<text transform="translate(798.70,119.7) rotate(-70)" font-size="25.5" fill="#231f20" stroke="#231f20" stroke-width="0.45">PL</text>
<text transform="translate(821.34,119.7) rotate(-70)" font-size="25.5" fill="#231f20" stroke="#231f20" stroke-width="0.45">LyPL</text>
<text transform="translate(843.98,119.7) rotate(-70)" font-size="25.5" fill="#231f20" stroke="#231f20" stroke-width="0.45">MG</text>
<text transform="translate(866.62,119.7) rotate(-70)" font-size="25.5" fill="#231f20" stroke="#231f20" stroke-width="0.45">DAG</text>
<text transform="translate(889.26,119.7) rotate(-70)" font-size="25.5" fill="#231f20" stroke="#231f20" stroke-width="0.45">CERs</text>
<text transform="translate(911.90,119.7) rotate(-70)" font-size="25.5" fill="#231f20" stroke="#231f20" stroke-width="0.45">HexCERs</text>
<text transform="translate(934.54,119.7) rotate(-70)" font-size="25.5" fill="#231f20" stroke="#231f20" stroke-width="0.45">dhSMs</text>
<text transform="translate(957.18,119.7) rotate(-70)" font-size="25.5" fill="#231f20" stroke="#231f20" stroke-width="0.45">SMs</text>
<text transform="translate(979.82,119.7) rotate(-70)" font-size="25.5" fill="#231f20" stroke="#231f20" stroke-width="0.45">SPHs</text>
<text transform="translate(1002.46,119.7) rotate(-70)" font-size="25.5" fill="#231f20" stroke="#231f20" stroke-width="0.45">Sterol</text>
<text x="629" y="33.2" font-size="35.5" fill="#000" stroke="#000" stroke-width="0.45">Differential lipids</text>
<path d="M400.5 348.3 H408.5 V440.6 H400.5 M400.5 394.6 H408.5" fill="none" stroke="#231f20" stroke-width="2.3"/>
<rect x="410.67" y="394.60" width="18.3" height="12.88" fill="#fff" stroke="#000" stroke-width="1.8"/>
<path d="M416.02 404.98 H423.62 M416.02 409.98 H423.62 M419.82 404.98 V409.98" stroke="#000" stroke-width="1.9" fill="none"/>
<circle cx="419.82" cy="407.48" r="2.6" fill="#000"/>
<rect x="433.31" y="394.60" width="18.3" height="13.80" fill="#fff" stroke="#000" stroke-width="1.8"/>
<path d="M438.66 405.90 H446.26 M438.66 410.90 H446.26 M442.46 405.90 V410.90" stroke="#000" stroke-width="1.9" fill="none"/>
<circle cx="442.46" cy="408.40" r="2.6" fill="#000"/>
<rect x="455.95" y="394.60" width="18.3" height="16.33" fill="#fff" stroke="#000" stroke-width="1.8"/>
<path d="M461.30 406.13 H468.90 M461.30 415.73 H468.90 M465.10 406.13 V415.73" stroke="#000" stroke-width="1.9" fill="none"/>
<circle cx="465.10" cy="410.93" r="2.6" fill="#000"/>
<rect x="478.59" y="394.60" width="18.3" height="8.74" fill="#fff" stroke="#000" stroke-width="1.8"/>
<path d="M483.94 401.84 H491.54 M483.94 404.84 H491.54 M487.74 401.84 V404.84" stroke="#000" stroke-width="1.9" fill="none"/>
<circle cx="487.74" cy="403.34" r="2.6" fill="#000"/>
<rect x="501.23" y="394.60" width="18.3" height="10.12" fill="#fff" stroke="#000" stroke-width="1.8"/>
<path d="M506.58 403.22 H514.18 M506.58 406.22 H514.18 M510.38 403.22 V406.22" stroke="#000" stroke-width="1.9" fill="none"/>
<circle cx="510.38" cy="404.72" r="2.6" fill="#000"/>
<rect x="523.87" y="394.60" width="18.3" height="10.81" fill="#fff" stroke="#000" stroke-width="1.8"/>
<path d="M529.22 403.91 H536.82 M529.22 406.91 H536.82 M533.02 403.91 V406.91" stroke="#000" stroke-width="1.9" fill="none"/>
<circle cx="533.02" cy="405.41" r="2.6" fill="#000"/>
<rect x="546.51" y="394.60" width="18.3" height="9.20" fill="#fff" stroke="#000" stroke-width="1.8"/>
<path d="M551.86 402.60 H559.46 M551.86 405.00 H559.46 M555.66 402.60 V405.00" stroke="#000" stroke-width="1.9" fill="none"/>
<circle cx="555.66" cy="403.80" r="2.6" fill="#000"/>
<rect x="569.15" y="394.60" width="18.3" height="5.75" fill="#fff" stroke="#000" stroke-width="1.8"/>
<path d="M574.50 399.35 H582.10 M574.50 401.35 H582.10 M578.30 399.35 V401.35" stroke="#000" stroke-width="1.9" fill="none"/>
<circle cx="578.30" cy="400.35" r="2.6" fill="#000"/>
<rect x="591.79" y="381.49" width="18.3" height="13.11" fill="#fff" stroke="#000" stroke-width="1.8"/>
<path d="M597.14 375.79 H604.74 M597.14 387.19 H604.74 M600.94 375.79 V387.19" stroke="#000" stroke-width="1.9" fill="none"/>
<circle cx="600.94" cy="381.49" r="2.6" fill="#000"/>
<rect x="614.43" y="394.60" width="18.3" height="17.94" fill="#fff" stroke="#000" stroke-width="1.8"/>
<path d="M619.78 407.74 H627.38 M619.78 417.34 H627.38 M623.58 407.74 V417.34" stroke="#000" stroke-width="1.9" fill="none"/>
<circle cx="623.58" cy="412.54" r="2.6" fill="#000"/>
<rect x="637.07" y="394.60" width="18.3" height="9.43" fill="#fff" stroke="#000" stroke-width="1.8"/>
<path d="M642.42 401.53 H650.02 M642.42 406.53 H650.02 M646.22 401.53 V406.53" stroke="#000" stroke-width="1.9" fill="none"/>
<circle cx="646.22" cy="404.03" r="2.6" fill="#000"/>
<rect x="659.71" y="383.33" width="18.3" height="11.27" fill="#fff" stroke="#000" stroke-width="1.8"/>
<path d="M665.06 379.63 H672.66 M665.06 387.03 H672.66 M668.86 379.63 V387.03" stroke="#000" stroke-width="1.9" fill="none"/>
<circle cx="668.86" cy="383.33" r="2.6" fill="#000"/>
<rect x="682.35" y="394.60" width="18.3" height="3.22" fill="#fff" stroke="#000" stroke-width="1.8"/>
<path d="M687.70 396.82 H695.30 M687.70 398.82 H695.30 M691.50 396.82 V398.82" stroke="#000" stroke-width="1.9" fill="none"/>
<circle cx="691.50" cy="397.82" r="2.6" fill="#000"/>
<rect x="704.99" y="394.60" width="18.3" height="6.44" fill="#fff" stroke="#000" stroke-width="1.8"/>
<path d="M710.34 399.84 H717.94 M710.34 402.24 H717.94 M714.14 399.84 V402.24" stroke="#000" stroke-width="1.9" fill="none"/>
<circle cx="714.14" cy="401.04" r="2.6" fill="#000"/>
<rect x="727.63" y="394.60" width="18.3" height="8.97" fill="#fff" stroke="#000" stroke-width="1.8"/>
<path d="M732.98 401.67 H740.58 M732.98 405.47 H740.58 M736.78 401.67 V405.47" stroke="#000" stroke-width="1.9" fill="none"/>
<circle cx="736.78" cy="403.57" r="2.6" fill="#000"/>
<rect x="750.27" y="394.60" width="18.3" height="9.66" fill="#fff" stroke="#000" stroke-width="1.8"/>
<path d="M755.62 402.06 H763.22 M755.62 406.46 H763.22 M759.42 402.06 V406.46" stroke="#000" stroke-width="1.9" fill="none"/>
<circle cx="759.42" cy="404.26" r="2.6" fill="#000"/>
<rect x="772.91" y="394.60" width="18.3" height="7.59" fill="#fff" stroke="#000" stroke-width="1.8"/>
<path d="M778.26 400.39 H785.86 M778.26 403.99 H785.86 M782.06 400.39 V403.99" stroke="#000" stroke-width="1.9" fill="none"/>
<circle cx="782.06" cy="402.19" r="2.6" fill="#000"/>
<rect x="795.55" y="394.60" width="18.3" height="6.67" fill="#fff" stroke="#000" stroke-width="1.8"/>
<path d="M800.90 399.37 H808.50 M800.90 403.17 H808.50 M804.70 399.37 V403.17" stroke="#000" stroke-width="1.9" fill="none"/>
<circle cx="804.70" cy="401.27" r="2.6" fill="#000"/>
<rect x="818.19" y="394.60" width="18.3" height="10.35" fill="#fff" stroke="#000" stroke-width="1.8"/>
<path d="M823.54 401.55 H831.14 M823.54 408.35 H831.14 M827.34 401.55 V408.35" stroke="#000" stroke-width="1.9" fill="none"/>
<circle cx="827.34" cy="404.95" r="2.6" fill="#000"/>
<rect x="840.83" y="394.60" width="18.3" height="22.08" fill="#fff" stroke="#000" stroke-width="1.8"/>
<path d="M846.18 411.28 H853.78 M846.18 422.08 H853.78 M849.98 411.28 V422.08" stroke="#000" stroke-width="1.9" fill="none"/>
<circle cx="849.98" cy="416.68" r="2.6" fill="#000"/>
<rect x="863.47" y="394.60" width="18.3" height="10.58" fill="#fff" stroke="#000" stroke-width="1.8"/>
<path d="M868.82 402.28 H876.42 M868.82 408.08 H876.42 M872.62 402.28 V408.08" stroke="#000" stroke-width="1.9" fill="none"/>
<circle cx="872.62" cy="405.18" r="2.6" fill="#000"/>
<rect x="886.11" y="370.91" width="18.3" height="23.69" fill="#fff" stroke="#000" stroke-width="1.8"/>
<path d="M891.46 360.41 H899.06 M891.46 381.41 H899.06 M895.26 360.41 V381.41" stroke="#000" stroke-width="1.9" fill="none"/>
<circle cx="895.26" cy="370.91" r="2.6" fill="#000"/>
<rect x="908.75" y="394.60" width="18.3" height="9.43" fill="#fff" stroke="#000" stroke-width="1.8"/>
<path d="M914.10 401.83 H921.70 M914.10 406.23 H921.70 M917.90 401.83 V406.23" stroke="#000" stroke-width="1.9" fill="none"/>
<circle cx="917.90" cy="404.03" r="2.6" fill="#000"/>
<rect x="931.39" y="394.60" width="18.3" height="22.77" fill="#fff" stroke="#000" stroke-width="1.8"/>
<path d="M936.74 409.77 H944.34 M936.74 424.97 H944.34 M940.54 409.77 V424.97" stroke="#000" stroke-width="1.9" fill="none"/>
<circle cx="940.54" cy="417.37" r="2.6" fill="#000"/>
<rect x="954.03" y="394.60" width="18.3" height="12.88" fill="#fff" stroke="#000" stroke-width="1.8"/>
<path d="M959.38 403.68 H966.98 M959.38 411.28 H966.98 M963.18 403.68 V411.28" stroke="#000" stroke-width="1.9" fill="none"/>
<circle cx="963.18" cy="407.48" r="2.6" fill="#000"/>
<rect x="976.67" y="394.60" width="18.3" height="8.97" fill="#fff" stroke="#000" stroke-width="1.8"/>
<path d="M982.02 402.57 H989.62 M982.02 404.57 H989.62 M985.82 402.57 V404.57" stroke="#000" stroke-width="1.9" fill="none"/>
<circle cx="985.82" cy="403.57" r="2.6" fill="#000"/>
<rect x="999.31" y="394.60" width="18.3" height="10.35" fill="#fff" stroke="#000" stroke-width="1.8"/>
<path d="M1004.66 403.45 H1012.26 M1004.66 406.45 H1012.26 M1008.46 403.45 V406.45" stroke="#000" stroke-width="1.9" fill="none"/>
<circle cx="1008.46" cy="404.95" r="2.6" fill="#000"/>
<line x1="408.5" y1="394.6" x2="1019.5" y2="394.6" stroke="#000" stroke-width="2.2"/>
<text x="419.82" y="450.6" text-anchor="middle" font-size="33" font-weight="bold" fill="#000">*</text>
<text x="442.46" y="450.6" text-anchor="middle" font-size="33" font-weight="bold" fill="#000">*</text>
<text x="465.10" y="450.6" text-anchor="middle" font-size="33" font-weight="bold" fill="#000">*</text>
<text x="487.74" y="450.6" text-anchor="middle" font-size="33" font-weight="bold" fill="#000">*</text>
<text x="510.38" y="450.6" text-anchor="middle" font-size="33" font-weight="bold" fill="#000">*</text>
<text x="533.02" y="450.6" text-anchor="middle" font-size="33" font-weight="bold" fill="#000">*</text>
<text x="555.66" y="450.6" text-anchor="middle" font-size="33" font-weight="bold" fill="#000">*</text>
<text x="578.30" y="450.6" text-anchor="middle" font-size="33" font-weight="bold" fill="#000">*</text>
<text x="600.94" y="368.3" text-anchor="middle" font-size="33" font-weight="bold" fill="#000">*</text>
<text x="623.58" y="450.6" text-anchor="middle" font-size="33" font-weight="bold" fill="#000">*</text>
<text x="646.22" y="450.6" text-anchor="middle" font-size="33" font-weight="bold" fill="#000">*</text>
<text x="668.86" y="368.3" text-anchor="middle" font-size="33" font-weight="bold" fill="#000">*</text>
<text x="691.50" y="450.6" text-anchor="middle" font-size="33" font-weight="bold" fill="#000">*</text>
<text x="714.14" y="450.6" text-anchor="middle" font-size="33" font-weight="bold" fill="#000">*</text>
<text x="736.78" y="450.6" text-anchor="middle" font-size="33" font-weight="bold" fill="#000">*</text>
<text x="759.42" y="450.6" text-anchor="middle" font-size="33" font-weight="bold" fill="#000">*</text>
<text x="782.06" y="450.6" text-anchor="middle" font-size="33" font-weight="bold" fill="#000">*</text>
<text x="804.70" y="450.6" text-anchor="middle" font-size="33" font-weight="bold" fill="#000">*</text>
<text x="827.34" y="450.6" text-anchor="middle" font-size="33" font-weight="bold" fill="#000">*</text>
<text x="849.98" y="450.6" text-anchor="middle" font-size="33" font-weight="bold" fill="#000">*</text>
<text x="872.62" y="450.6" text-anchor="middle" font-size="33" font-weight="bold" fill="#000">*</text>
<text x="895.26" y="368.3" text-anchor="middle" font-size="33" font-weight="bold" fill="#000">*</text>
<text x="917.90" y="450.6" text-anchor="middle" font-size="33" font-weight="bold" fill="#000">*</text>
<text x="940.54" y="450.6" text-anchor="middle" font-size="33" font-weight="bold" fill="#000">*</text>
<text x="963.18" y="450.6" text-anchor="middle" font-size="33" font-weight="bold" fill="#000">*</text>
<text x="985.82" y="450.6" text-anchor="middle" font-size="33" font-weight="bold" fill="#000">*</text>
<text x="1008.46" y="450.6" text-anchor="middle" font-size="33" font-weight="bold" fill="#000">*</text>
<text x="391.3" y="358.9" text-anchor="end" font-size="25.5" fill="#231f20" stroke="#231f20" stroke-width="0.45">2</text>
<text x="391.3" y="404.9" text-anchor="end" font-size="25.5" fill="#231f20" stroke="#231f20" stroke-width="0.45">0</text>
<text x="391.3" y="450.8" text-anchor="end" font-size="25.5" fill="#231f20" stroke="#231f20" stroke-width="0.45">-2</text>
<text transform="translate(333,394.4) rotate(-90)" text-anchor="middle" font-size="20" fill="#231f20" stroke="#231f20" stroke-width="0.45">log<tspan font-size="13" dy="1">2</tspan><tspan dy="-1">(Sleep</tspan><tspan font-size="13.5" dy="4.5">day</tspan></text>
<text transform="translate(357.5,394.4) rotate(-90)" text-anchor="middle" font-size="20" fill="#231f20" stroke="#231f20" stroke-width="0.45">/Wake<tspan font-size="13.5" dy="4.5">night</tspan><tspan dy="-4.5">)</tspan></text>
<defs><linearGradient id="rdbu" x1="0" x2="1" y1="0" y2="0"><stop offset="0" stop-color="#053a7a"/><stop offset="0.1" stop-color="#2166ac"/><stop offset="0.2" stop-color="#4393c3"/><stop offset="0.3" stop-color="#92c5de"/><stop offset="0.4" stop-color="#d1e5f0"/><stop offset="0.5" stop-color="#f7f7f7"/><stop offset="0.6" stop-color="#fddbc7"/><stop offset="0.7" stop-color="#f4a582"/><stop offset="0.8" stop-color="#d6604d"/><stop offset="0.9" stop-color="#b2182b"/><stop offset="1" stop-color="#7a0020"/></linearGradient></defs>
<rect x="942.7" y="452.9" width="76.5" height="18.6" fill="url(#rdbu)" stroke="#231f20" stroke-width="1.4"/>
<text x="927.5" y="473" text-anchor="end" font-size="25.4" fill="#231f20" stroke="#231f20" stroke-width="0.45">-2</text>
<text x="1036" y="473" font-size="25.4" fill="#231f20" stroke="#231f20" stroke-width="0.45">2</text>
<text x="891" y="507.3" font-size="24.5" fill="#231f20" textLength="177.5" lengthAdjust="spacingAndGlyphs" stroke="#231f20" stroke-width="0.45">Scaled intensity</text>
<text x="332.3" y="37.5" font-size="47" font-weight="bold" fill="#000">b</text>
<defs><linearGradient id="tubeg" x1="0" y1="0" x2="1" y2="0"><stop offset="0" stop-color="#f3b73a"/><stop offset="0.5" stop-color="#fbd98a"/><stop offset="1" stop-color="#fff1cc"/></linearGradient></defs>
<text x="-3.5" y="37.5" font-size="47" font-weight="bold" fill="#000">a</text>
<g transform="translate(30,60) scale(0.07333528894103843)" stroke="#231f20" stroke-linecap="round" stroke-linejoin="round" fill="none">
<path d="M1110 712 L835 648 L800 728 Z" fill="#d8c8a0" stroke-width="14.0"/>
<path d="M125 770 C95 700 85 560 110 430 C140 300 260 210 440 195 C600 185 790 240 868 360 C905 430 900 560 862 650 C830 720 760 790 700 825 C600 862 450 855 300 825 C230 812 190 812 160 805 C125 800 110 790 125 770 Z" fill="#eeeeee" stroke-width="22.0"/>
<path d="M125 770 C140 740 165 720 185 712 M190 808 C200 790 212 776 225 770 M480 838 C495 822 510 812 525 806" stroke-width="18"/>
<path d="M412 345 C370 370 330 400 310 440 L300 492 M282 408 C320 430 360 455 392 495" stroke-width="20.0"/>
<ellipse cx="335" cy="440" rx="22" ry="14" fill="#d8c8a0" stroke="none"/>
<path d="M508 462 L640 540 M508 568 C540 600 560 640 575 670 M575 440 L685 420 L628 520" stroke-width="20.0"/>
<path d="M700 725 L772 345 M690 705 L882 482 M700 712 L872 590 M720 735 L842 660 M705 730 L860 630" stroke-width="18.0"/>
<ellipse cx="735" cy="795" rx="16" ry="26" fill="#d8c8a0" stroke="none"/>
<path d="M975 268 L1078 242 L1016 420 L1128 390 M1092 220 L1205 190 L1150 378 L1280 342 M1232 168 L1380 126 L1292 312 L1430 272" stroke-width="22"/>
</g>
<g transform="translate(185,50) scale(0.08665511265164645,0.08665511265164645)" stroke="#231f20" stroke-linecap="round" stroke-linejoin="round">
<defs><linearGradient id="earg" x1="0" y1="0" x2="1" y2="1"><stop offset="0" stop-color="#c9a070"/><stop offset="0.75" stop-color="#f4ece2"/></linearGradient></defs>
<path d="M560 690 C700 662 800 622 900 585 C1010 548 1160 550 1405 628 L1400 652 C1160 592 1010 598 912 628 C800 672 700 712 575 742 Z" fill="#d9b380" stroke-width="22"/>
<path d="M1180 580 C1260 595 1330 612 1400 640" stroke-width="26" fill="none"/>
<path d="M300 210 C170 260 85 380 80 500 C80 640 190 750 320 775 C420 795 540 785 585 745 C610 700 600 580 605 530 C615 450 660 400 705 365 C745 335 775 300 788 262 C790 235 765 215 735 205 C660 170 560 150 470 150 C400 155 340 180 300 210 Z" fill="#dcdedd" stroke-width="27"/>
<path d="M300 205 C270 140 320 88 390 95 C445 100 472 135 462 175 C452 230 432 268 400 265 C350 262 312 242 300 205 Z" fill="url(#earg)" stroke="none"/>
<path d="M462 168 C455 118 420 92 385 94 C325 98 288 138 298 190 C308 235 350 262 400 265 C415 266 428 262 438 256" fill="none" stroke-width="25"/>
<path d="M565 158 L612 68 L652 162 Z" fill="#e8d2b4" stroke-width="18"/>
<ellipse cx="590" cy="226" rx="42" ry="24" fill="#231f20" stroke="none"/><circle cx="597" cy="222" r="10" fill="#fff" stroke="none"/>
<circle cx="760" cy="258" r="30" fill="#231f20" stroke="none"/><circle cx="753" cy="263" r="11" fill="#e8d2b4" stroke="none"/>
<path d="M655 345 C690 348 722 335 742 318" fill="none" stroke-width="18"/>
<path d="M320 515 C380 530 430 545 470 560" fill="none" stroke-width="18"/>
<path d="M440 500 L470 530 L520 490 L545 528 L578 518 L562 582 L500 592 L440 556 Z" fill="#ead6b6" stroke-width="20"/>
<path d="M300 742 L332 720 L362 762 L422 792 L440 832 L310 836 Z" fill="#efe3cf" stroke-width="22"/>
<path d="M528 772 L598 760 L640 792 L560 802 Z" fill="#e8d2b4" stroke-width="20"/>
</g>
<rect x="14.5" y="136.7" width="145.6" height="50.7" fill="#fff" stroke="#414042" stroke-width="2.7"/>
<rect x="161.4" y="135.4" width="147.4" height="53.3" fill="#231f20"/>
<text x="33.5" y="164.9" font-size="30.3" fill="#414042" stroke="#414042" stroke-width="0.45">Sleep<tspan font-size="18" dx="1" dy="9.8">day</tspan></text>
<text x="176.3" y="165.4" font-size="31" fill="#fff" stroke="#fff" stroke-width="0.45">Wake<tspan font-size="17.8" dx="1.5" dy="10">night</tspan></text>
<path d="M50.9 200.7 L87.6 238.6 L123.9 200.7" fill="none" stroke="#231f20" stroke-width="2.3"/>
<path d="M197.5 200.7 L233.8 239 L270.3 200.7" fill="none" stroke="#1d2a6c" stroke-width="2.3"/>
<path d="M87.6 238.6 V281.5 M83.19999999999999 276 L87.6 281.8 L92.0 276" fill="none" stroke="#231f20" stroke-width="2"/>
<path d="M233.8 238.6 V281.5 M229.4 276 L233.8 281.8 L238.20000000000002 276" fill="none" stroke="#231f20" stroke-width="2"/>
<path d="M77.2 328.7 H90.8 V335.2 C90.8 347.2 86.72 353.2 84.0 353.2 C81.28 353.2 77.2 347.2 77.2 335.2 Z" fill="url(#tubeg)" stroke="none"/>
<path d="M77.2 305.2 V335.2 C77.2 347.2 81.28 353.2 84.0 353.2 C86.72 353.2 90.8 347.2 90.8 335.2 V305.2 Z M77.2 328.7 H90.8" fill="none" stroke="#231f20" stroke-width="1.8"/>
<path d="M61.900000000000006 291.2 L72.7 302.7" stroke="#231f20" stroke-width="4.2" stroke-linecap="round"/>
<path d="M72.2 302.7 L75.7 305.2" stroke="#231f20" stroke-width="1.6"/>
<path d="M226.3 328.7 H239.9 V335.2 C239.9 347.2 235.82000000000002 353.2 233.10000000000002 353.2 C230.38000000000002 353.2 226.3 347.2 226.3 335.2 Z" fill="url(#tubeg)" stroke="none"/>
<path d="M226.3 305.2 V335.2 C226.3 347.2 230.38000000000002 353.2 233.10000000000002 353.2 C235.82000000000002 353.2 239.9 347.2 239.9 335.2 V305.2 Z M226.3 328.7 H239.9" fill="none" stroke="#231f20" stroke-width="1.8"/>
<path d="M255.20000000000002 291.2 L244.4 302.7" stroke="#231f20" stroke-width="4.2" stroke-linecap="round"/>
<path d="M244.9 302.7 L241.4 305.2" stroke="#231f20" stroke-width="1.6"/>
<text x="67" y="397" font-size="30" fill="#231f20" textLength="186.5" lengthAdjust="spacingAndGlyphs" stroke="#231f20" stroke-width="0.45">Metabolomics</text>
<rect x="1137.5" y="312.8" width="352.0" height="80.39999999999998" fill="#dcdddc"/>
<line x1="1140.5" y1="359.80" x2="1489.5" y2="359.80" stroke="#9a9a9a" stroke-width="2" stroke-dasharray="2 5.7"/>
<line x1="1140.5" y1="335.70" x2="1489.5" y2="335.70" stroke="#9a9a9a" stroke-width="2" stroke-dasharray="2 5.7"/>
<line x1="1140.5" y1="311.60" x2="1489.5" y2="311.60" stroke="#9a9a9a" stroke-width="2" stroke-dasharray="2 5.7"/>
<line x1="1140.5" y1="287.50" x2="1489.5" y2="287.50" stroke="#9a9a9a" stroke-width="2" stroke-dasharray="2 5.7"/>
<line x1="1140.5" y1="263.40" x2="1489.5" y2="263.40" stroke="#9a9a9a" stroke-width="2" stroke-dasharray="2 5.7"/>
<line x1="1140.5" y1="239.30" x2="1489.5" y2="239.30" stroke="#9a9a9a" stroke-width="2" stroke-dasharray="2 5.7"/>
<line x1="1140.5" y1="191.10" x2="1489.5" y2="191.10" stroke="#9a9a9a" stroke-width="2" stroke-dasharray="2 5.7"/>
<line x1="1140.5" y1="167.00" x2="1489.5" y2="167.00" stroke="#9a9a9a" stroke-width="2" stroke-dasharray="2 5.7"/>
<line x1="1140.5" y1="142.90" x2="1489.5" y2="142.90" stroke="#9a9a9a" stroke-width="2" stroke-dasharray="2 5.7"/>
<line x1="1140.5" y1="118.80" x2="1489.5" y2="118.80" stroke="#9a9a9a" stroke-width="2" stroke-dasharray="2 5.7"/>
<line x1="1140.5" y1="94.70" x2="1489.5" y2="94.70" stroke="#9a9a9a" stroke-width="2" stroke-dasharray="2 5.7"/>
<line x1="1140.5" y1="70.60" x2="1489.5" y2="70.60" stroke="#9a9a9a" stroke-width="2" stroke-dasharray="2 5.7"/>
<line x1="1184.74" y1="46.5" x2="1184.74" y2="393.2" stroke="#9a9a9a" stroke-width="2" stroke-dasharray="2 5.7"/>
<line x1="1218.48" y1="46.5" x2="1218.48" y2="393.2" stroke="#9a9a9a" stroke-width="2" stroke-dasharray="2 5.7"/>
<line x1="1252.22" y1="46.5" x2="1252.22" y2="393.2" stroke="#9a9a9a" stroke-width="2" stroke-dasharray="2 5.7"/>
<line x1="1285.96" y1="46.5" x2="1285.96" y2="393.2" stroke="#9a9a9a" stroke-width="2" stroke-dasharray="2 5.7"/>
<line x1="1353.44" y1="46.5" x2="1353.44" y2="393.2" stroke="#9a9a9a" stroke-width="2" stroke-dasharray="2 5.7"/>
<line x1="1387.18" y1="46.5" x2="1387.18" y2="393.2" stroke="#9a9a9a" stroke-width="2" stroke-dasharray="2 5.7"/>
<line x1="1420.92" y1="46.5" x2="1420.92" y2="393.2" stroke="#9a9a9a" stroke-width="2" stroke-dasharray="2 5.7"/>
<line x1="1454.66" y1="46.5" x2="1454.66" y2="393.2" stroke="#9a9a9a" stroke-width="2" stroke-dasharray="2 5.7"/>
<line x1="1151.00" y1="46.5" x2="1151.00" y2="393.2" stroke="#d2d2d2" stroke-width="2"/>
<line x1="1319.70" y1="46.5" x2="1319.70" y2="393.2" stroke="#d2d2d2" stroke-width="2"/>
<line x1="1488.40" y1="46.5" x2="1488.40" y2="393.2" stroke="#d2d2d2" stroke-width="2"/>
<line x1="1137.5" y1="383.90" x2="1489.5" y2="383.90" stroke="#d2d2d2" stroke-width="2"/>
<line x1="1137.5" y1="215.20" x2="1489.5" y2="215.20" stroke="#d2d2d2" stroke-width="2"/>
<line x1="1137.5" y1="46.50" x2="1489.5" y2="46.50" stroke="#d2d2d2" stroke-width="2"/>
<circle cx="1151.0" cy="75.6" r="12.8" fill="#fff" stroke="#000" stroke-width="1.9"/>
<circle cx="1326.8" cy="194.0" r="12.8" fill="#fff" stroke="#000" stroke-width="1.9"/>
<circle cx="1220.0" cy="281.9" r="12.3" fill="#fff" stroke="#000" stroke-width="1.9"/>
<circle cx="1225.7" cy="311.5" r="12.3" fill="#fff" stroke="#000" stroke-width="1.9"/>
<circle cx="1160.6" cy="326.7" r="9.7" fill="#fff" stroke="#000" stroke-width="1.9"/>
<circle cx="1173.4" cy="332.9" r="11.6" fill="#fff" stroke="#000" stroke-width="1.9"/>
<circle cx="1150.1" cy="333.3" r="10.5" fill="#fff" stroke="#000" stroke-width="1.9"/>
<circle cx="1150.5" cy="338.3" r="10.1" fill="#fff" stroke="#000" stroke-width="1.9"/>
<circle cx="1164.5" cy="339.9" r="8.9" fill="#fff" stroke="#000" stroke-width="1.9"/>
<circle cx="1150.5" cy="341.8" r="10.1" fill="#fff" stroke="#000" stroke-width="1.9"/>
<circle cx="1150.5" cy="347.3" r="10.1" fill="#fff" stroke="#000" stroke-width="1.9"/>
<circle cx="1488.9" cy="352.2" r="9.9" fill="#fff" stroke="#000" stroke-width="1.9"/>
<circle cx="1171.5" cy="356.6" r="8.9" fill="#fff" stroke="#000" stroke-width="1.9"/>
<circle cx="1295.8" cy="357.9" r="10.4" fill="#fff" stroke="#000" stroke-width="1.9"/>
<circle cx="1148.6" cy="358.1" r="7.8" fill="#fff" stroke="#000" stroke-width="1.9"/>
<circle cx="1156.0" cy="359.7" r="8.5" fill="#fff" stroke="#000" stroke-width="1.9"/>
<circle cx="1252.1" cy="365.8" r="8.6" fill="#fff" stroke="#000" stroke-width="1.9"/>
<circle cx="1165.7" cy="367.5" r="7.8" fill="#fff" stroke="#000" stroke-width="1.9"/>
<circle cx="1150.5" cy="371.3" r="6.6" fill="#fff" stroke="#000" stroke-width="1.9"/>
<circle cx="1170.0" cy="374.4" r="6.2" fill="#fff" stroke="#000" stroke-width="1.9"/>
<circle cx="1151.5" cy="374.5" r="6.0" fill="#fff" stroke="#000" stroke-width="1.9"/>
<circle cx="1215.8" cy="375.7" r="7.4" fill="#fff" stroke="#000" stroke-width="1.9"/>
<circle cx="1175.4" cy="376.8" r="5.4" fill="#fff" stroke="#000" stroke-width="1.9"/>
<circle cx="1196.1" cy="376.9" r="6.9" fill="#fff" stroke="#000" stroke-width="1.9"/>
<circle cx="1161.4" cy="380.3" r="4.3" fill="#fff" stroke="#000" stroke-width="1.9"/>
<circle cx="1165.5" cy="380.8" r="4.4" fill="#fff" stroke="#000" stroke-width="1.9"/>
<circle cx="1179.3" cy="381.0" r="2.4" fill="#fff" stroke="#000" stroke-width="1.9"/>
<circle cx="1150.6" cy="378.8" r="7.2" fill="none" stroke="#000" stroke-width="1.7"/>
<circle cx="1150.6" cy="378.8" r="5.8" fill="none" stroke="#000" stroke-width="1.7"/>
<circle cx="1150.6" cy="378.8" r="4.5" fill="none" stroke="#000" stroke-width="1.7"/>
<circle cx="1150.6" cy="378.8" r="3.2" fill="none" stroke="#000" stroke-width="1.7"/>
<circle cx="1150.6" cy="378.8" r="2.0" fill="none" stroke="#000" stroke-width="1.7"/>
<path d="M1132.5 46.50 H1137.5 V393.2 H1489.5 M1132.5 215.20 H1137.5 M1132.5 383.90 H1137.5" fill="none" stroke="#231f20" stroke-width="2.3"/>
<line x1="1151.00" y1="393.2" x2="1151.00" y2="398.2" stroke="#231f20" stroke-width="2.3"/>
<line x1="1319.70" y1="393.2" x2="1319.70" y2="398.2" stroke="#231f20" stroke-width="2.3"/>
<line x1="1488.40" y1="393.2" x2="1488.40" y2="398.2" stroke="#231f20" stroke-width="2.3"/>
<text x="1121" y="57.5" text-anchor="end" font-size="31" fill="#231f20" stroke="#231f20" stroke-width="0.45">14</text>
<text x="1121" y="226.2" text-anchor="end" font-size="31" fill="#231f20" stroke="#231f20" stroke-width="0.45">7</text>
<text x="1121" y="394.9" text-anchor="end" font-size="31" fill="#231f20" stroke="#231f20" stroke-width="0.45">0</text>
<text x="1151.00" y="428.3" text-anchor="middle" font-size="30" fill="#231f20" stroke="#231f20" stroke-width="0.45">0</text>
<text x="1319.70" y="428.3" text-anchor="middle" font-size="30" fill="#231f20" stroke="#231f20" stroke-width="0.45">0.5</text>
<text x="1488.40" y="428.3" text-anchor="middle" font-size="30" fill="#231f20" stroke="#231f20" stroke-width="0.45">1</text>
<text x="1206" y="463.4" font-size="30.3" fill="#231f20" textLength="214.5" lengthAdjust="spacingAndGlyphs" stroke="#231f20" stroke-width="0.45">Pathway impact</text>
<text transform="translate(1089,220) rotate(-90)" text-anchor="middle" font-size="30" fill="#231f20" stroke="#231f20" stroke-width="0.45">-log(p)</text>
<text x="1167.5" y="71.9" font-size="24" fill="#000" textLength="260" lengthAdjust="spacingAndGlyphs" stroke="#000" stroke-width="0.45">Unsaturated fatty acids</text>
<text x="1344" y="189.1" font-size="24" fill="#000" textLength="151" lengthAdjust="spacingAndGlyphs" stroke="#000" stroke-width="0.45">Sphingolipids</text>
<text x="1237.2" y="278.2" font-size="24" fill="#000" textLength="243" lengthAdjust="spacingAndGlyphs" stroke="#000" stroke-width="0.45">Glycerophospholipids</text>
<text x="1243" y="307.1" font-size="24" fill="#000" textLength="145" lengthAdjust="spacingAndGlyphs" stroke="#000" stroke-width="0.45">Beta-Alanine</text>
<text x="1243" y="336.7" font-size="24" fill="#000" textLength="128.5" lengthAdjust="spacingAndGlyphs" stroke="#000" stroke-width="0.45">metabolism</text>
<text x="1045" y="37.2" font-size="47" font-weight="bold" fill="#000">c</text>
<line x1="186.3" y1="600" x2="186.3" y2="928" stroke="#000" stroke-width="1.5" stroke-dasharray="1.5 6.1"/>
<line x1="238.5" y1="600" x2="238.5" y2="928" stroke="#000" stroke-width="1.5" stroke-dasharray="1.5 6.1"/>
<line x1="77" y1="845.6" x2="352" y2="845.6" stroke="#000" stroke-width="1.5" stroke-dasharray="1.5 6.1"/>
<circle cx="198.1" cy="748.8" r="7.2" fill="none" stroke="#bdbdbd" stroke-width="1.6"/>
<circle cx="190.2" cy="762.3" r="7.2" fill="none" stroke="#bdbdbd" stroke-width="1.6"/>
<circle cx="197.2" cy="793.7" r="7.2" fill="none" stroke="#bdbdbd" stroke-width="1.6"/>
<circle cx="227.6" cy="817.8" r="7.2" fill="none" stroke="#bdbdbd" stroke-width="1.6"/>
<circle cx="196.6" cy="827.8" r="7.2" fill="none" stroke="#bdbdbd" stroke-width="1.6"/>
<circle cx="192.3" cy="834.2" r="7.2" fill="none" stroke="#bdbdbd" stroke-width="1.6"/>
<circle cx="179.5" cy="852.4" r="7.2" fill="none" stroke="#bdbdbd" stroke-width="1.6"/>
<circle cx="191.2" cy="849.8" r="7.2" fill="none" stroke="#bdbdbd" stroke-width="1.6"/>
<circle cx="196.0" cy="858.4" r="7.2" fill="none" stroke="#bdbdbd" stroke-width="1.6"/>
<circle cx="178.4" cy="865.2" r="7.2" fill="none" stroke="#bdbdbd" stroke-width="1.6"/>
<circle cx="185.9" cy="867.3" r="7.2" fill="none" stroke="#bdbdbd" stroke-width="1.6"/>
<circle cx="196.6" cy="872.7" r="7.2" fill="none" stroke="#bdbdbd" stroke-width="1.6"/>
<circle cx="229.7" cy="866.9" r="7.2" fill="none" stroke="#bdbdbd" stroke-width="1.6"/>
<circle cx="233.5" cy="864.8" r="7.2" fill="none" stroke="#bdbdbd" stroke-width="1.6"/>
<circle cx="206.2" cy="888.7" r="7.2" fill="none" stroke="#bdbdbd" stroke-width="1.6"/>
<circle cx="200.4" cy="888.7" r="7.2" fill="none" stroke="#bdbdbd" stroke-width="1.6"/>
<circle cx="195.1" cy="899.4" r="7.2" fill="none" stroke="#bdbdbd" stroke-width="1.6"/>
<circle cx="207.3" cy="903.6" r="7.2" fill="none" stroke="#bdbdbd" stroke-width="1.6"/>
<circle cx="220.1" cy="900.4" r="7.2" fill="none" stroke="#bdbdbd" stroke-width="1.6"/>
<circle cx="227.1" cy="891.9" r="7.2" fill="none" stroke="#bdbdbd" stroke-width="1.6"/>
<circle cx="211.5" cy="919.7" r="7.2" fill="none" stroke="#bdbdbd" stroke-width="1.6"/>
<circle cx="212.6" cy="922.9" r="7.2" fill="none" stroke="#bdbdbd" stroke-width="1.6"/>
<circle cx="213.7" cy="925.0" r="7.2" fill="none" stroke="#bdbdbd" stroke-width="1.6"/>
<circle cx="212.6" cy="928.2" r="7.2" fill="none" stroke="#bdbdbd" stroke-width="1.6"/>
<circle cx="185.9" cy="736.0" r="7.3" fill="#d1e3f1" stroke="#000" stroke-width="1.5"/>
<circle cx="180.5" cy="603.2" r="7.3" fill="#d1e3f1" stroke="#000" stroke-width="1.5"/>
<circle cx="175.2" cy="758.4" r="7.3" fill="#84bcdb" stroke="#000" stroke-width="1.5"/>
<circle cx="176.7" cy="774.5" r="7.3" fill="#84bcdb" stroke="#000" stroke-width="1.5"/>
<circle cx="171.0" cy="787.9" r="7.3" fill="#84bcdb" stroke="#000" stroke-width="1.5"/>
<circle cx="184.8" cy="787.3" r="7.3" fill="#84bcdb" stroke="#000" stroke-width="1.5"/>
<circle cx="183.8" cy="793.7" r="7.3" fill="#84bcdb" stroke="#000" stroke-width="1.5"/>
<circle cx="171.6" cy="800.1" r="7.3" fill="#84bcdb" stroke="#000" stroke-width="1.5"/>
<circle cx="178.0" cy="812.9" r="7.3" fill="#84bcdb" stroke="#000" stroke-width="1.5"/>
<circle cx="156.7" cy="815.7" r="7.3" fill="#2c6fb5" stroke="#000" stroke-width="1.5"/>
<circle cx="162.4" cy="809.7" r="7.3" fill="#0d3263" stroke="#000" stroke-width="1.5"/>
<circle cx="165.2" cy="812.9" r="7.3" fill="#0d3263" stroke="#000" stroke-width="1.5"/>
<circle cx="171.0" cy="807.6" r="7.3" fill="#0d3263" stroke="#000" stroke-width="1.5"/>
<circle cx="176.7" cy="792.6" r="7.3" fill="#0d3263" stroke="#000" stroke-width="1.5"/>
<circle cx="174.2" cy="825.7" r="7.3" fill="#0d3263" stroke="#000" stroke-width="1.5"/>
<circle cx="171.6" cy="837.0" r="7.3" fill="#d1e3f1" stroke="#000" stroke-width="1.5"/>
<circle cx="241.2" cy="816.0" r="7.3" fill="#b2172d" stroke="#000" stroke-width="1.5"/>
<circle cx="260.6" cy="841.1" r="7.3" fill="#b2172d" stroke="#000" stroke-width="1.5"/>
<circle cx="279.0" cy="815.4" r="7.3" fill="#b2172d" stroke="#000" stroke-width="1.5"/>
<circle cx="289.6" cy="820.9" r="7.3" fill="#b2172d" stroke="#000" stroke-width="1.5"/>
<circle cx="310.2" cy="813.0" r="7.3" fill="#b2172d" stroke="#000" stroke-width="1.5"/>
<circle cx="311.9" cy="805.8" r="7.3" fill="#b2172d" stroke="#000" stroke-width="1.5"/>
<circle cx="279.0" cy="825.9" r="7.3" fill="#f4a582" stroke="#000" stroke-width="1.5"/>
<circle cx="292.9" cy="828.2" r="7.3" fill="#f4a582" stroke="#000" stroke-width="1.5"/>
<circle cx="90" cy="607.7" r="7.3" fill="#fff" stroke="#bdbdbd" stroke-width="1.6"/>
<text x="103" y="615.0" font-size="20.5" fill="#000" stroke="#000" stroke-width="0.45">n.s.</text>
<circle cx="90" cy="634.5" r="7.3" fill="#b2172d" stroke="#000" stroke-width="1.5"/>
<text x="103" y="641.8" font-size="20.5" fill="#000" stroke="#000" stroke-width="0.45">Cer</text>
<circle cx="90" cy="662.2" r="7.3" fill="#f4a582" stroke="#000" stroke-width="1.5"/>
<text x="103" y="669.5" font-size="20.5" fill="#000" stroke="#000" stroke-width="0.45">dhCer</text>
<circle cx="90" cy="690.3" r="7.3" fill="#d1e3f1" stroke="#000" stroke-width="1.5"/>
<text x="103" y="697.6" font-size="20.5" fill="#000" stroke="#000" stroke-width="0.45">Sph</text>
<circle cx="90" cy="718.0" r="7.3" fill="#84bcdb" stroke="#000" stroke-width="1.5"/>
<text x="103" y="725.3" font-size="20.5" fill="#000" stroke="#000" stroke-width="0.45">HexCer</text>
<circle cx="90" cy="745.3" r="7.3" fill="#2c6fb5" stroke="#000" stroke-width="1.5"/>
<text x="103" y="752.6" font-size="20.5" fill="#000" stroke="#000" stroke-width="0.45">dhSM</text>
<circle cx="90" cy="772.0" r="7.3" fill="#0d3263" stroke="#000" stroke-width="1.5"/>
<text x="103" y="779.3" font-size="20.5" fill="#000" stroke="#000" stroke-width="0.45">SM</text>
<path d="M70 598.8 H74.5 V929 H350.5 M70 764 H74.5 M70 929 H74.5" fill="none" stroke="#231f20" stroke-width="2.3"/>
<line x1="74.00" y1="929" x2="74.00" y2="933" stroke="#231f20" stroke-width="2.3"/>
<line x1="212.00" y1="929" x2="212.00" y2="933" stroke="#231f20" stroke-width="2.3"/>
<line x1="350.00" y1="929" x2="350.00" y2="933" stroke="#231f20" stroke-width="2.3"/>
<text x="59" y="610.8" text-anchor="end" font-size="32" fill="#231f20" stroke="#231f20" stroke-width="0.45">4</text>
<text x="59" y="775.8" text-anchor="end" font-size="32" fill="#231f20" stroke="#231f20" stroke-width="0.45">2</text>
<text x="59" y="940.8" text-anchor="end" font-size="32" fill="#231f20" stroke="#231f20" stroke-width="0.45">0</text>
<text x="72.50" y="963" text-anchor="middle" font-size="31.5" fill="#231f20" stroke="#231f20" stroke-width="0.45">-2</text>
<text x="212.00" y="963" text-anchor="middle" font-size="31.5" fill="#231f20" stroke="#231f20" stroke-width="0.45">0</text>
<text x="350.00" y="963" text-anchor="middle" font-size="31.5" fill="#231f20" stroke="#231f20" stroke-width="0.45">2</text>
<text x="60.5" y="996.8" font-size="30.1" fill="#231f20" stroke="#231f20" stroke-width="0.45">log<tspan font-size="17.5" dy="0">2</tspan><tspan>(Sleep</tspan><tspan font-size="19.6" dy="9.6">day</tspan><tspan dy="-9.6">/Wake</tspan><tspan font-size="19.6" dy="9.6">night</tspan><tspan dy="-9.6">)</tspan></text>
<text transform="translate(29,765.5) rotate(-90)" text-anchor="middle" font-size="32.5" fill="#231f20" stroke="#231f20" stroke-width="0.45">-log<tspan font-size="19.5">10</tspan>(p)</text>
<text x="121" y="583.3" font-size="29" fill="#000" textLength="181" lengthAdjust="spacingAndGlyphs" stroke="#000" stroke-width="0.45">Sphingolipids</text>
<text x="-2" y="569" font-size="46" font-weight="bold" fill="#000">d</text>
<text x="376" y="569" font-size="46" font-weight="bold" fill="#000">e</text>
<polygon points="474.8,604.7 550.2,687.7 531.2,687.7 531.2,758.4 418.5,758.4 418.5,687.7 399.1,687.7" fill="#ededed"/>
<polygon points="635.3,604.5 711.4,687.8 692.1,687.8 692.1,759.2 579.4,759.2 579.4,687.8 559.4,687.8" fill="#ededed"/>
<text transform="translate(396.5,679) rotate(-47) scale(0.9,1)" font-size="28" fill="#231f20" stroke="#231f20" stroke-width="0.45">Control (Ctl)</text>
<text transform="translate(603,584) rotate(-47) scale(0.9,1)" text-anchor="middle" font-size="28" fill="#231f20" stroke="#231f20" stroke-width="0.45">Sleep</text>
<text transform="translate(628.6,604.4) rotate(-47) scale(0.9,1)" text-anchor="middle" font-size="28" fill="#231f20" stroke="#231f20" stroke-width="0.45">deprivationn (SD)</text>
<g transform="translate(362.88,664.83) scale(0.099)" stroke="#231f20" fill="none" stroke-width="30" stroke-linecap="round" stroke-linejoin="round"><path d="M975 268 L1078 242 L1016 420 L1128 390 M1092 220 L1205 190 L1150 378 L1280 342 M1232 168 L1380 126 L1292 312 L1430 272"/></g>
<g transform="translate(427.6,704.3) scale(0.079)" stroke="#231f20" stroke-linecap="round" stroke-linejoin="round" fill="none">
<path d="M1110 712 L835 648 L800 728 Z" fill="#231f20" stroke-width="20.3"/>
<path d="M830 680 L960 690" stroke="#d8c8a0" stroke-width="14.5"/>
<path d="M125 770 C95 700 85 560 110 430 C140 300 260 210 440 195 C600 185 790 240 868 360 C905 430 900 560 862 650 C830 720 760 790 700 825 C600 862 450 855 300 825 C230 812 190 812 160 805 C125 800 110 790 125 770 Z" fill="#efefef" stroke-width="31.9"/>
<path d="M125 770 C140 740 165 720 185 712 M190 808 C200 790 212 776 225 770 M480 838 C495 822 510 812 525 806" stroke-width="18"/>
<path d="M412 345 C370 370 330 400 310 440 L300 492 M282 408 C320 430 360 455 392 495" stroke-width="29.0"/>
<ellipse cx="335" cy="440" rx="22" ry="14" fill="#d8c8a0" stroke="none"/>
<path d="M508 462 L640 540 M508 568 C540 600 560 640 575 670 M575 440 L685 420 L628 520" stroke-width="29.0"/>
<path d="M700 725 L772 345 M690 705 L882 482 M700 712 L872 590 M720 735 L842 660 M705 730 L860 630" stroke-width="26.099999999999998"/>
<ellipse cx="735" cy="795" rx="16" ry="26" fill="#d8c8a0" stroke="none"/>
</g>
<g transform="translate(580.0,704.3) scale(0.079)" stroke="#231f20" stroke-linecap="round" stroke-linejoin="round" fill="none">
<path d="M1110 712 L835 648 L800 728 Z" fill="#231f20" stroke-width="20.3"/>
<path d="M830 680 L960 690" stroke="#d8c8a0" stroke-width="14.5"/>
<path d="M125 770 C95 700 85 560 110 430 C140 300 260 210 440 195 C600 185 790 240 868 360 C905 430 900 560 862 650 C830 720 760 790 700 825 C600 862 450 855 300 825 C230 812 190 812 160 805 C125 800 110 790 125 770 Z" fill="#efefef" stroke-width="31.9"/>
<path d="M125 770 C140 740 165 720 185 712 M190 808 C200 790 212 776 225 770 M480 838 C495 822 510 812 525 806" stroke-width="18"/>
<path d="M412 345 C370 370 330 400 310 440 L300 492 M282 408 C320 430 360 455 392 495" stroke-width="29.0"/>
<ellipse cx="335" cy="440" rx="22" ry="14" fill="#d8c8a0" stroke="none"/>
<path d="M508 462 L640 540 M508 568 C540 600 560 640 575 670 M575 440 L685 420 L628 520" stroke-width="29.0"/>
<path d="M700 725 L772 345 M690 705 L882 482 M700 712 L872 590 M720 735 L842 660 M705 730 L860 630" stroke-width="26.099999999999998"/>
<ellipse cx="735" cy="795" rx="16" ry="26" fill="#d8c8a0" stroke="none"/>
</g>
<text x="636.0" y="757.3" text-anchor="middle" font-size="55" font-weight="bold" fill="#e3000f">X</text>
<line x1="625.8" y1="615" x2="625.8" y2="657" stroke="#8c8c8c" stroke-width="2.1" stroke-dasharray="2 1.7"/>
<polygon points="625.80,658.00 628.03,663.93 634.36,664.22 629.41,668.17 631.09,674.28 625.80,670.80 620.51,674.28 622.19,668.17 617.24,664.22 623.57,663.93" fill="#6d6d6d"/>
<line x1="662" y1="637.5" x2="662" y2="678" stroke="#8c8c8c" stroke-width="2.1" stroke-dasharray="2 1.7"/>
<polygon points="662,677.8 668.6,690.3 655.4,690.3" fill="#6d6d6d"/><circle cx="662" cy="694.3" r="3.4" fill="#6d6d6d"/>
<ellipse cx="684.80" cy="736.80" rx="5.8" ry="3.2" transform="rotate(0 684.80 736.80)" fill="#6d6d6d"/><ellipse cx="682.37" cy="742.67" rx="5.8" ry="3.2" transform="rotate(45 682.37 742.67)" fill="#6d6d6d"/><ellipse cx="676.50" cy="745.10" rx="5.8" ry="3.2" transform="rotate(90 676.50 745.10)" fill="#6d6d6d"/><ellipse cx="670.63" cy="742.67" rx="5.8" ry="3.2" transform="rotate(135 670.63 742.67)" fill="#6d6d6d"/><ellipse cx="668.20" cy="736.80" rx="5.8" ry="3.2" transform="rotate(180 668.20 736.80)" fill="#6d6d6d"/><ellipse cx="670.63" cy="730.93" rx="5.8" ry="3.2" transform="rotate(225 670.63 730.93)" fill="#6d6d6d"/><ellipse cx="676.50" cy="728.50" rx="5.8" ry="3.2" transform="rotate(270 676.50 728.50)" fill="#6d6d6d"/><ellipse cx="682.37" cy="730.93" rx="5.8" ry="3.2" transform="rotate(315 682.37 730.93)" fill="#6d6d6d"/>
<circle cx="676.5" cy="736.7" r="5.5" fill="#6d6d6d"/><circle cx="676.5" cy="736.7" r="2.6" fill="#fff"/>
<path d="M678 745 Q681.2 750 680.8 759" fill="none" stroke="#6d6d6d" stroke-width="2.2"/>
<rect x="575.1" y="846.4" width="102.3" height="24.9" fill="#dcdddc"/>
<rect x="472.9" y="901.7" width="204.5" height="24.8" fill="#dcdddc"/>
<rect x="472.9" y="793.4" width="204.5" height="24.9" fill="none" stroke="#231f20" stroke-width="2.5"/>
<rect x="472.9" y="846.4" width="204.5" height="24.9" fill="none" stroke="#231f20" stroke-width="2.5"/>
<rect x="472.9" y="901.7" width="204.5" height="24.9" fill="none" stroke="#231f20" stroke-width="2.5"/>
<path d="M461.9 927.4 H711 M703.5 922.6 L711 927.4 L703.5 932.2" fill="none" stroke="#231f20" stroke-width="2.3"/>
<line x1="472.4" y1="927.4" x2="472.4" y2="935.8" stroke="#231f20" stroke-width="2.3"/>
<line x1="575.1" y1="927.4" x2="575.1" y2="935.8" stroke="#231f20" stroke-width="2.3"/>
<line x1="677.9" y1="927.4" x2="677.9" y2="935.8" stroke="#231f20" stroke-width="2.3"/>
<text x="462" y="812.1" text-anchor="end" font-size="24.5" fill="#231f20" stroke="#231f20" stroke-width="0.45">Ctl</text>
<text x="462" y="865.2" text-anchor="end" font-size="24.5" fill="#231f20" stroke="#231f20" stroke-width="0.45">SD6</text>
<text x="462" y="920.7" text-anchor="end" font-size="24.5" fill="#231f20" stroke="#231f20" stroke-width="0.45">SD12</text>
<text x="467.5" y="968.7" text-anchor="middle" font-size="25" fill="#000" stroke="#000" stroke-width="0.45">ZT0</text>
<text x="570.0" y="968.7" text-anchor="middle" font-size="25" fill="#000" stroke="#000" stroke-width="0.45">ZT6</text>
<text x="671.3" y="968.7" text-anchor="middle" font-size="25" fill="#000" stroke="#000" stroke-width="0.45">ZT12</text>
<path d="M677.4 980.8 V1005 M672.8 999.4 L677.4 1005.2 L682 999.4" fill="none" stroke="#231f20" stroke-width="2.2"/>
<text x="679.2" y="1031" text-anchor="middle" font-size="25" fill="#000" stroke="#000" stroke-width="0.45">Sac.</text>
<line x1="818" y1="708" x2="1010" y2="708" stroke="#8a8a8a" stroke-width="1.8" stroke-dasharray="1.8 5.8"/>
<rect x="835.1" y="707.1" width="47.2" height="220.5" fill="#fff" stroke="#000" stroke-width="2.2"/>
<rect x="894.3" y="688.6" width="47.2" height="239.0" fill="#fff" stroke="#000" stroke-width="2.2"/>
<rect x="952.2" y="678.4" width="47.2" height="249.2" fill="#fff" stroke="#000" stroke-width="2.2"/>
<path d="M813.5 597.5 H818 V927.6 H1012 M813.5 708 H818 M813.5 817.7 H818" fill="none" stroke="#231f20" stroke-width="2.2"/>
<line x1="858.7" y1="927.6" x2="858.7" y2="932.2" stroke="#231f20" stroke-width="2.2"/>
<line x1="917.9" y1="927.6" x2="917.9" y2="932.2" stroke="#231f20" stroke-width="2.2"/>
<line x1="975.8" y1="927.6" x2="975.8" y2="932.2" stroke="#231f20" stroke-width="2.2"/>
<path d="M845.3 699.6 H872.1 M845.3 716.3 H872.1 M858.7 699.6 V716.3" stroke="#000" stroke-width="2.4" fill="none"/>
<path d="M904.5 680.4 H931.3 M904.5 698.5 H931.3 M917.9 680.4 V698.5" stroke="#000" stroke-width="2.4" fill="none"/>
<path d="M962.4 670.2 H989.2 M962.4 687.9 H989.2 M975.8 670.2 V687.9" stroke="#000" stroke-width="2.4" fill="none"/>
<circle cx="858.7" cy="676.7" r="4.7" fill="#a0092f" stroke="#fff" stroke-width="0.6"/>
<circle cx="858.7" cy="682.5" r="4.7" fill="#a0092f" stroke="#fff" stroke-width="0.6"/>
<circle cx="858.7" cy="695.3" r="4.7" fill="#a0092f" stroke="#fff" stroke-width="0.6"/>
<circle cx="858.7" cy="714.0" r="4.7" fill="#a0092f" stroke="#fff" stroke-width="0.6"/>
<circle cx="858.7" cy="722.7" r="4.7" fill="#a0092f" stroke="#fff" stroke-width="0.6"/>
<circle cx="862" cy="737.3" r="4.7" fill="#a0092f" stroke="#fff" stroke-width="0.6"/>
<circle cx="856" cy="739.3" r="4.7" fill="#a0092f" stroke="#fff" stroke-width="0.6"/>
<circle cx="917.3" cy="659.3" r="4.7" fill="#a0092f" stroke="#fff" stroke-width="0.6"/>
<circle cx="917.3" cy="665.1" r="4.7" fill="#a0092f" stroke="#fff" stroke-width="0.6"/>
<circle cx="914.7" cy="676.7" r="4.7" fill="#a0092f" stroke="#fff" stroke-width="0.6"/>
<circle cx="920.5" cy="678.9" r="4.7" fill="#a0092f" stroke="#fff" stroke-width="0.6"/>
<circle cx="917.3" cy="684.0" r="4.7" fill="#a0092f" stroke="#fff" stroke-width="0.6"/>
<circle cx="917.3" cy="702.6" r="4.7" fill="#a0092f" stroke="#fff" stroke-width="0.6"/>
<circle cx="917.3" cy="722.0" r="4.7" fill="#a0092f" stroke="#fff" stroke-width="0.6"/>
<circle cx="917.3" cy="727.3" r="4.7" fill="#a0092f" stroke="#fff" stroke-width="0.6"/>
<circle cx="975.7" cy="638.2" r="4.7" fill="#a0092f" stroke="#fff" stroke-width="0.6"/>
<circle cx="975.7" cy="658.5" r="4.7" fill="#a0092f" stroke="#fff" stroke-width="0.6"/>
<circle cx="975.7" cy="664.1" r="4.7" fill="#a0092f" stroke="#fff" stroke-width="0.6"/>
<circle cx="975.7" cy="675.3" r="4.7" fill="#a0092f" stroke="#fff" stroke-width="0.6"/>
<circle cx="975.7" cy="681.1" r="4.7" fill="#a0092f" stroke="#fff" stroke-width="0.6"/>
<circle cx="975.7" cy="697.5" r="4.7" fill="#a0092f" stroke="#fff" stroke-width="0.6"/>
<circle cx="975.7" cy="707.1" r="4.7" fill="#a0092f" stroke="#fff" stroke-width="0.6"/>
<circle cx="975.7" cy="711.6" r="4.7" fill="#a0092f" stroke="#fff" stroke-width="0.6"/>
<line x1="856.3" y1="623.6" x2="974.8" y2="623.6" stroke="#231f20" stroke-width="2.5"/>
<text x="915.5" y="618.6" text-anchor="middle" font-size="37" font-weight="bold" fill="#000">*</text>
<text x="804.5" y="608.5" text-anchor="end" font-size="31" fill="#231f20" stroke="#231f20" stroke-width="0.45">1.5</text>
<text x="804.5" y="719.0" text-anchor="end" font-size="31" fill="#231f20" stroke="#231f20" stroke-width="0.45">1.0</text>
<text x="804.5" y="828.7" text-anchor="end" font-size="31" fill="#231f20" stroke="#231f20" stroke-width="0.45">0.5</text>
<text x="804.5" y="938.6" text-anchor="end" font-size="31" fill="#231f20" stroke="#231f20" stroke-width="0.45">0</text>
<text transform="translate(745,763.3) rotate(-90)" text-anchor="middle" font-size="30.6" fill="#231f20" stroke="#231f20" stroke-width="0.45">Nor. brain ceramide</text>
<text transform="translate(871.7,955) rotate(-45)" text-anchor="end" font-size="30" fill="#231f20" stroke="#231f20" stroke-width="0.45">Ctl</text>
<text transform="translate(930.3,955) rotate(-45)" text-anchor="end" font-size="30" fill="#231f20" stroke="#231f20" stroke-width="0.45">SD6</text>
<text transform="translate(989.0,955) rotate(-45)" text-anchor="end" font-size="30" fill="#231f20" stroke="#231f20" stroke-width="0.45">SD12</text>
<text x="1045.5" y="569" font-size="46" font-weight="bold" fill="#000">f</text>
<circle cx="1201" cy="852.2" r="10.2" fill="#000"/>
<circle cx="1227.3" cy="813.5" r="10.2" fill="#000"/>
<circle cx="1295.2" cy="839.8" r="10.2" fill="#000"/>
<circle cx="1304.2" cy="807.6" r="10.2" fill="#000"/>
<circle cx="1304.2" cy="741.6" r="10.2" fill="#000"/>
<circle cx="1346.3" cy="669.7" r="10.2" fill="#000"/>
<circle cx="1410.3" cy="720.8" r="10.2" fill="#000"/>
<circle cx="1436.5" cy="655.3" r="10.2" fill="#000"/>
<line x1="1157.9" y1="886.9" x2="1473.7" y2="639" stroke="#a3103a" stroke-width="4.2"/>
<path d="M1135.3 596.5 H1140 V928.1 H1492.5" fill="none" stroke="#231f20" stroke-width="2.3"/>
<line x1="1135.3" y1="679.5" x2="1140" y2="679.5" stroke="#231f20" stroke-width="2.3"/>
<line x1="1135.3" y1="762.5" x2="1140" y2="762.5" stroke="#231f20" stroke-width="2.3"/>
<line x1="1135.3" y1="845.5" x2="1140" y2="845.5" stroke="#231f20" stroke-width="2.3"/>
<line x1="1135.3" y1="928.5" x2="1140" y2="928.5" stroke="#231f20" stroke-width="2.3"/>
<line x1="1140.0" y1="928.1" x2="1140.0" y2="932.8" stroke="#231f20" stroke-width="2.3"/>
<line x1="1315.6" y1="928.1" x2="1315.6" y2="932.8" stroke="#231f20" stroke-width="2.3"/>
<line x1="1491.2" y1="928.1" x2="1491.2" y2="932.8" stroke="#231f20" stroke-width="2.3"/>
<text x="1125" y="607.8" text-anchor="end" font-size="32" fill="#231f20" stroke="#231f20" stroke-width="0.45">2</text>
<text x="1125" y="690.8" text-anchor="end" font-size="32" fill="#231f20" stroke="#231f20" stroke-width="0.45">1</text>
<text x="1125" y="773.8" text-anchor="end" font-size="32" fill="#231f20" stroke="#231f20" stroke-width="0.45">0</text>
<text x="1125" y="856.8" text-anchor="end" font-size="32" fill="#231f20" stroke="#231f20" stroke-width="0.45">-1</text>
<text x="1125" y="939.8" text-anchor="end" font-size="32" fill="#231f20" stroke="#231f20" stroke-width="0.45">-2</text>
<text x="1138.0" y="962.9" text-anchor="middle" font-size="32" fill="#231f20" stroke="#231f20" stroke-width="0.45">-2</text>
<text x="1315.6" y="962.9" text-anchor="middle" font-size="32" fill="#231f20" stroke="#231f20" stroke-width="0.45">0</text>
<text x="1491.2" y="962.9" text-anchor="middle" font-size="32" fill="#231f20" stroke="#231f20" stroke-width="0.45">2</text>
<text x="1229.5" y="998.4" font-size="30.5" fill="#231f20" textLength="172" lengthAdjust="spacingAndGlyphs" stroke="#231f20" stroke-width="0.45">Nor. % wake</text>
<text transform="translate(1081.5,764.2) rotate(-90)" text-anchor="middle" font-size="30.5" fill="#231f20" stroke="#231f20" stroke-width="0.45">Nor. brain ceramide</text>
<text x="1490.5" y="867" text-anchor="end" font-size="30" fill="#000" stroke="#000" stroke-width="0.45">R² = 0.7</text>
<text x="1490.5" y="904.2" text-anchor="end" font-size="30" fill="#000" stroke="#000" stroke-width="0.45">p = 0.009</text>
<rect x="1149.8" y="598.5" width="43.6" height="27" fill="#222"/>
<polygon points="1195.2,605 1209.2,600.3 1209.2,624.2 1195.2,619.2" fill="#222"/>
<path d="M1163.3 627.5 L1156.3 648 M1179.5 627.5 L1186.8 648" stroke="#231f20" stroke-width="3.4"/>
<g transform="translate(1372.98,545.3420000000001) scale(-0.0935,0.0935)" stroke="#231f20" stroke-linecap="round" stroke-linejoin="round">
<defs><linearGradient id="earg" x1="0" y1="0" x2="1" y2="1"><stop offset="0" stop-color="#c9a070"/><stop offset="0.75" stop-color="#f4ece2"/></linearGradient></defs>
<path d="M560 690 C700 662 800 622 900 585 C1010 548 1160 550 1405 628 L1400 652 C1160 592 1010 598 912 628 C800 672 700 712 575 742 Z" fill="#d9b380" stroke-width="22"/>
<path d="M1180 580 C1260 595 1330 612 1400 640" stroke-width="26" fill="none"/>
<path d="M300 210 C170 260 85 380 80 500 C80 640 190 750 320 775 C420 795 540 785 585 745 C610 700 600 580 605 530 C615 450 660 400 705 365 C745 335 775 300 788 262 C790 235 765 215 735 205 C660 170 560 150 470 150 C400 155 340 180 300 210 Z" fill="#dcdedd" stroke-width="27"/>
<path d="M300 205 C270 140 320 88 390 95 C445 100 472 135 462 175 C452 230 432 268 400 265 C350 262 312 242 300 205 Z" fill="url(#earg)" stroke="none"/>
<path d="M462 168 C455 118 420 92 385 94 C325 98 288 138 298 190 C308 235 350 262 400 265 C415 266 428 262 438 256" fill="none" stroke-width="25"/>
<path d="M565 158 L612 68 L652 162 Z" fill="#e8d2b4" stroke-width="18"/>
<ellipse cx="590" cy="226" rx="42" ry="24" fill="#231f20" stroke="none"/><circle cx="597" cy="222" r="10" fill="#fff" stroke="none"/>
<circle cx="760" cy="258" r="30" fill="#231f20" stroke="none"/><circle cx="753" cy="263" r="11" fill="#e8d2b4" stroke="none"/>
<path d="M655 345 C690 348 722 335 742 318" fill="none" stroke-width="18"/>
<path d="M320 515 C380 530 430 545 470 560" fill="none" stroke-width="18"/>
<path d="M440 500 L470 530 L520 490 L545 528 L578 518 L562 582 L500 592 L440 556 Z" fill="#ead6b6" stroke-width="20"/>
<path d="M300 742 L332 720 L362 762 L422 792 L440 832 L310 836 Z" fill="#efe3cf" stroke-width="22"/>
<path d="M528 772 L598 760 L640 792 L560 802 Z" fill="#e8d2b4" stroke-width="20"/>
</g>
</svg>
</body></html>
